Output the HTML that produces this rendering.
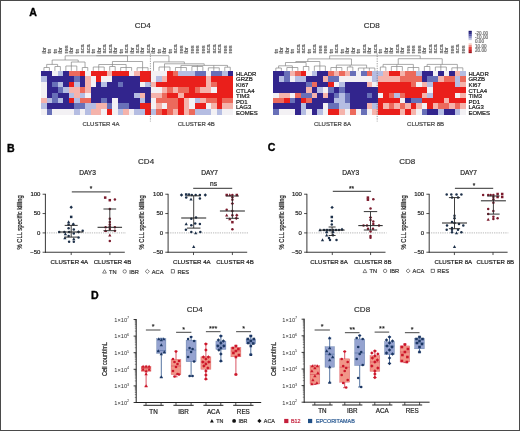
<!DOCTYPE html><html><head><meta charset="utf-8"><style>html,body{margin:0;padding:0;background:#fff;}svg{display:block;font-family:"Liberation Sans", sans-serif;filter:blur(0.3px);}</style></head><body>
<svg width="520" height="431" viewBox="0 0 520 431">
<rect x="0" y="0" width="520" height="431" fill="#ffffff"/>
<text x="29.2" y="15.5" font-size="10.6" fill="#000" text-anchor="start" font-weight="bold" stroke="#000" stroke-width="0.35">A</text>
<text x="142.8" y="28.3" font-size="8" fill="#333" text-anchor="middle" font-weight="normal" stroke="#333" stroke-width="0.2">CD4</text>
<text x="371.7" y="28.3" font-size="8" fill="#333" text-anchor="middle" font-weight="normal" stroke="#333" stroke-width="0.2">CD8</text>
<g shape-rendering="crispEdges">
<rect x="41.2" y="70.8" width="5.83" height="5.79" fill="#32258d"/>
<rect x="46.68" y="70.8" width="5.83" height="5.79" fill="#32258d"/>
<rect x="52.16" y="70.8" width="5.83" height="5.79" fill="#f3f1f4"/>
<rect x="57.64" y="70.8" width="5.83" height="5.79" fill="#b5bde2"/>
<rect x="63.12" y="70.8" width="5.83" height="5.79" fill="#32258d"/>
<rect x="68.6" y="70.8" width="5.83" height="5.79" fill="#ec6a5c"/>
<rect x="74.08" y="70.8" width="5.83" height="5.79" fill="#ec6a5c"/>
<rect x="79.56" y="70.8" width="5.83" height="5.79" fill="#ea1f1b"/>
<rect x="85.04" y="70.8" width="5.83" height="5.79" fill="#f3f1f4"/>
<rect x="90.52" y="70.8" width="5.83" height="5.79" fill="#ea1f1b"/>
<rect x="96" y="70.8" width="5.83" height="5.79" fill="#ea1f1b"/>
<rect x="101.48" y="70.8" width="5.83" height="5.79" fill="#ea1f1b"/>
<rect x="106.96" y="70.8" width="5.83" height="5.79" fill="#f5b3ab"/>
<rect x="112.44" y="70.8" width="5.83" height="5.79" fill="#ea1f1b"/>
<rect x="117.92" y="70.8" width="5.83" height="5.79" fill="#ea1f1b"/>
<rect x="123.4" y="70.8" width="5.83" height="5.79" fill="#ea1f1b"/>
<rect x="128.88" y="70.8" width="5.83" height="5.79" fill="#f3f1f4"/>
<rect x="134.36" y="70.8" width="5.83" height="5.79" fill="#f5b3ab"/>
<rect x="139.84" y="70.8" width="5.83" height="5.79" fill="#ea1f1b"/>
<rect x="145.32" y="70.8" width="5.83" height="5.79" fill="#ea1f1b"/>
<rect x="150.8" y="70.8" width="5.83" height="5.79" fill="#f3f1f4"/>
<rect x="156.28" y="70.8" width="5.83" height="5.79" fill="#f3f1f4"/>
<rect x="161.76" y="70.8" width="5.83" height="5.79" fill="#f3f1f4"/>
<rect x="167.24" y="70.8" width="5.83" height="5.79" fill="#ea1f1b"/>
<rect x="172.72" y="70.8" width="5.83" height="5.79" fill="#ec6a5c"/>
<rect x="178.2" y="70.8" width="5.83" height="5.79" fill="#b5bde2"/>
<rect x="183.68" y="70.8" width="5.83" height="5.79" fill="#b5bde2"/>
<rect x="189.16" y="70.8" width="5.83" height="5.79" fill="#b5bde2"/>
<rect x="194.64" y="70.8" width="5.83" height="5.79" fill="#6870b8"/>
<rect x="200.12" y="70.8" width="5.83" height="5.79" fill="#6870b8"/>
<rect x="205.6" y="70.8" width="5.83" height="5.79" fill="#f3f1f4"/>
<rect x="211.08" y="70.8" width="5.83" height="5.79" fill="#6870b8"/>
<rect x="216.56" y="70.8" width="5.83" height="5.79" fill="#6870b8"/>
<rect x="222.04" y="70.8" width="5.83" height="5.79" fill="#b5bde2"/>
<rect x="227.52" y="70.8" width="5.83" height="5.79" fill="#32258d"/>
<rect x="41.2" y="76.24" width="5.83" height="5.79" fill="#b5bde2"/>
<rect x="46.68" y="76.24" width="5.83" height="5.79" fill="#32258d"/>
<rect x="52.16" y="76.24" width="5.83" height="5.79" fill="#32258d"/>
<rect x="57.64" y="76.24" width="5.83" height="5.79" fill="#32258d"/>
<rect x="63.12" y="76.24" width="5.83" height="5.79" fill="#32258d"/>
<rect x="68.6" y="76.24" width="5.83" height="5.79" fill="#32258d"/>
<rect x="74.08" y="76.24" width="5.83" height="5.79" fill="#6870b8"/>
<rect x="79.56" y="76.24" width="5.83" height="5.79" fill="#32258d"/>
<rect x="85.04" y="76.24" width="5.83" height="5.79" fill="#f5b3ab"/>
<rect x="90.52" y="76.24" width="5.83" height="5.79" fill="#f3f1f4"/>
<rect x="96" y="76.24" width="5.83" height="5.79" fill="#ea1f1b"/>
<rect x="101.48" y="76.24" width="5.83" height="5.79" fill="#f3f1f4"/>
<rect x="106.96" y="76.24" width="5.83" height="5.79" fill="#f3f1f4"/>
<rect x="112.44" y="76.24" width="5.83" height="5.79" fill="#32258d"/>
<rect x="117.92" y="76.24" width="5.83" height="5.79" fill="#32258d"/>
<rect x="123.4" y="76.24" width="5.83" height="5.79" fill="#32258d"/>
<rect x="128.88" y="76.24" width="5.83" height="5.79" fill="#32258d"/>
<rect x="134.36" y="76.24" width="5.83" height="5.79" fill="#32258d"/>
<rect x="139.84" y="76.24" width="5.83" height="5.79" fill="#ea1f1b"/>
<rect x="145.32" y="76.24" width="5.83" height="5.79" fill="#ea1f1b"/>
<rect x="150.8" y="76.24" width="5.83" height="5.79" fill="#f3f1f4"/>
<rect x="156.28" y="76.24" width="5.83" height="5.79" fill="#b5bde2"/>
<rect x="161.76" y="76.24" width="5.83" height="5.79" fill="#f5b3ab"/>
<rect x="167.24" y="76.24" width="5.83" height="5.79" fill="#ea1f1b"/>
<rect x="172.72" y="76.24" width="5.83" height="5.79" fill="#ea1f1b"/>
<rect x="178.2" y="76.24" width="5.83" height="5.79" fill="#ea1f1b"/>
<rect x="183.68" y="76.24" width="5.83" height="5.79" fill="#ea1f1b"/>
<rect x="189.16" y="76.24" width="5.83" height="5.79" fill="#ea1f1b"/>
<rect x="194.64" y="76.24" width="5.83" height="5.79" fill="#ea1f1b"/>
<rect x="200.12" y="76.24" width="5.83" height="5.79" fill="#ea1f1b"/>
<rect x="205.6" y="76.24" width="5.83" height="5.79" fill="#f5b3ab"/>
<rect x="211.08" y="76.24" width="5.83" height="5.79" fill="#ea1f1b"/>
<rect x="216.56" y="76.24" width="5.83" height="5.79" fill="#ea1f1b"/>
<rect x="222.04" y="76.24" width="5.83" height="5.79" fill="#ea1f1b"/>
<rect x="227.52" y="76.24" width="5.83" height="5.79" fill="#ea1f1b"/>
<rect x="41.2" y="81.68" width="5.83" height="5.79" fill="#f3f1f4"/>
<rect x="46.68" y="81.68" width="5.83" height="5.79" fill="#32258d"/>
<rect x="52.16" y="81.68" width="5.83" height="5.79" fill="#6870b8"/>
<rect x="57.64" y="81.68" width="5.83" height="5.79" fill="#b5bde2"/>
<rect x="63.12" y="81.68" width="5.83" height="5.79" fill="#32258d"/>
<rect x="68.6" y="81.68" width="5.83" height="5.79" fill="#ea1f1b"/>
<rect x="74.08" y="81.68" width="5.83" height="5.79" fill="#b5bde2"/>
<rect x="79.56" y="81.68" width="5.83" height="5.79" fill="#32258d"/>
<rect x="85.04" y="81.68" width="5.83" height="5.79" fill="#f5b3ab"/>
<rect x="90.52" y="81.68" width="5.83" height="5.79" fill="#f3f1f4"/>
<rect x="96" y="81.68" width="5.83" height="5.79" fill="#32258d"/>
<rect x="101.48" y="81.68" width="5.83" height="5.79" fill="#b5bde2"/>
<rect x="106.96" y="81.68" width="5.83" height="5.79" fill="#32258d"/>
<rect x="112.44" y="81.68" width="5.83" height="5.79" fill="#32258d"/>
<rect x="117.92" y="81.68" width="5.83" height="5.79" fill="#6870b8"/>
<rect x="123.4" y="81.68" width="5.83" height="5.79" fill="#32258d"/>
<rect x="128.88" y="81.68" width="5.83" height="5.79" fill="#32258d"/>
<rect x="134.36" y="81.68" width="5.83" height="5.79" fill="#32258d"/>
<rect x="139.84" y="81.68" width="5.83" height="5.79" fill="#f3f1f4"/>
<rect x="145.32" y="81.68" width="5.83" height="5.79" fill="#b5bde2"/>
<rect x="150.8" y="81.68" width="5.83" height="5.79" fill="#f5b3ab"/>
<rect x="156.28" y="81.68" width="5.83" height="5.79" fill="#ea1f1b"/>
<rect x="161.76" y="81.68" width="5.83" height="5.79" fill="#ea1f1b"/>
<rect x="167.24" y="81.68" width="5.83" height="5.79" fill="#ea1f1b"/>
<rect x="172.72" y="81.68" width="5.83" height="5.79" fill="#ea1f1b"/>
<rect x="178.2" y="81.68" width="5.83" height="5.79" fill="#ea1f1b"/>
<rect x="183.68" y="81.68" width="5.83" height="5.79" fill="#ea1f1b"/>
<rect x="189.16" y="81.68" width="5.83" height="5.79" fill="#ea1f1b"/>
<rect x="194.64" y="81.68" width="5.83" height="5.79" fill="#ea1f1b"/>
<rect x="200.12" y="81.68" width="5.83" height="5.79" fill="#ea1f1b"/>
<rect x="205.6" y="81.68" width="5.83" height="5.79" fill="#f5b3ab"/>
<rect x="211.08" y="81.68" width="5.83" height="5.79" fill="#ec6a5c"/>
<rect x="216.56" y="81.68" width="5.83" height="5.79" fill="#ea1f1b"/>
<rect x="222.04" y="81.68" width="5.83" height="5.79" fill="#ea1f1b"/>
<rect x="227.52" y="81.68" width="5.83" height="5.79" fill="#ea1f1b"/>
<rect x="41.2" y="87.12" width="5.83" height="5.79" fill="#f3f1f4"/>
<rect x="46.68" y="87.12" width="5.83" height="5.79" fill="#32258d"/>
<rect x="52.16" y="87.12" width="5.83" height="5.79" fill="#32258d"/>
<rect x="57.64" y="87.12" width="5.83" height="5.79" fill="#6870b8"/>
<rect x="63.12" y="87.12" width="5.83" height="5.79" fill="#b5bde2"/>
<rect x="68.6" y="87.12" width="5.83" height="5.79" fill="#f5b3ab"/>
<rect x="74.08" y="87.12" width="5.83" height="5.79" fill="#f5b3ab"/>
<rect x="79.56" y="87.12" width="5.83" height="5.79" fill="#ec6a5c"/>
<rect x="85.04" y="87.12" width="5.83" height="5.79" fill="#f5b3ab"/>
<rect x="90.52" y="87.12" width="5.83" height="5.79" fill="#32258d"/>
<rect x="96" y="87.12" width="5.83" height="5.79" fill="#32258d"/>
<rect x="101.48" y="87.12" width="5.83" height="5.79" fill="#32258d"/>
<rect x="106.96" y="87.12" width="5.83" height="5.79" fill="#32258d"/>
<rect x="112.44" y="87.12" width="5.83" height="5.79" fill="#32258d"/>
<rect x="117.92" y="87.12" width="5.83" height="5.79" fill="#32258d"/>
<rect x="123.4" y="87.12" width="5.83" height="5.79" fill="#32258d"/>
<rect x="128.88" y="87.12" width="5.83" height="5.79" fill="#32258d"/>
<rect x="134.36" y="87.12" width="5.83" height="5.79" fill="#32258d"/>
<rect x="139.84" y="87.12" width="5.83" height="5.79" fill="#32258d"/>
<rect x="145.32" y="87.12" width="5.83" height="5.79" fill="#32258d"/>
<rect x="150.8" y="87.12" width="5.83" height="5.79" fill="#f3f1f4"/>
<rect x="156.28" y="87.12" width="5.83" height="5.79" fill="#f3f1f4"/>
<rect x="161.76" y="87.12" width="5.83" height="5.79" fill="#f5b3ab"/>
<rect x="167.24" y="87.12" width="5.83" height="5.79" fill="#ec6a5c"/>
<rect x="172.72" y="87.12" width="5.83" height="5.79" fill="#f5b3ab"/>
<rect x="178.2" y="87.12" width="5.83" height="5.79" fill="#ec6a5c"/>
<rect x="183.68" y="87.12" width="5.83" height="5.79" fill="#ec6a5c"/>
<rect x="189.16" y="87.12" width="5.83" height="5.79" fill="#ea1f1b"/>
<rect x="194.64" y="87.12" width="5.83" height="5.79" fill="#ec6a5c"/>
<rect x="200.12" y="87.12" width="5.83" height="5.79" fill="#f5b3ab"/>
<rect x="205.6" y="87.12" width="5.83" height="5.79" fill="#f5b3ab"/>
<rect x="211.08" y="87.12" width="5.83" height="5.79" fill="#f3f1f4"/>
<rect x="216.56" y="87.12" width="5.83" height="5.79" fill="#ea1f1b"/>
<rect x="222.04" y="87.12" width="5.83" height="5.79" fill="#ea1f1b"/>
<rect x="227.52" y="87.12" width="5.83" height="5.79" fill="#ea1f1b"/>
<rect x="41.2" y="92.56" width="5.83" height="5.79" fill="#f3f1f4"/>
<rect x="46.68" y="92.56" width="5.83" height="5.79" fill="#32258d"/>
<rect x="52.16" y="92.56" width="5.83" height="5.79" fill="#6870b8"/>
<rect x="57.64" y="92.56" width="5.83" height="5.79" fill="#32258d"/>
<rect x="63.12" y="92.56" width="5.83" height="5.79" fill="#32258d"/>
<rect x="68.6" y="92.56" width="5.83" height="5.79" fill="#b5bde2"/>
<rect x="74.08" y="92.56" width="5.83" height="5.79" fill="#f5b3ab"/>
<rect x="79.56" y="92.56" width="5.83" height="5.79" fill="#b5bde2"/>
<rect x="85.04" y="92.56" width="5.83" height="5.79" fill="#f3f1f4"/>
<rect x="90.52" y="92.56" width="5.83" height="5.79" fill="#32258d"/>
<rect x="96" y="92.56" width="5.83" height="5.79" fill="#32258d"/>
<rect x="101.48" y="92.56" width="5.83" height="5.79" fill="#32258d"/>
<rect x="106.96" y="92.56" width="5.83" height="5.79" fill="#32258d"/>
<rect x="112.44" y="92.56" width="5.83" height="5.79" fill="#32258d"/>
<rect x="117.92" y="92.56" width="5.83" height="5.79" fill="#32258d"/>
<rect x="123.4" y="92.56" width="5.83" height="5.79" fill="#32258d"/>
<rect x="128.88" y="92.56" width="5.83" height="5.79" fill="#32258d"/>
<rect x="134.36" y="92.56" width="5.83" height="5.79" fill="#b5bde2"/>
<rect x="139.84" y="92.56" width="5.83" height="5.79" fill="#f5b3ab"/>
<rect x="145.32" y="92.56" width="5.83" height="5.79" fill="#32258d"/>
<rect x="150.8" y="92.56" width="5.83" height="5.79" fill="#f5b3ab"/>
<rect x="156.28" y="92.56" width="5.83" height="5.79" fill="#f5b3ab"/>
<rect x="161.76" y="92.56" width="5.83" height="5.79" fill="#ec6a5c"/>
<rect x="167.24" y="92.56" width="5.83" height="5.79" fill="#ea1f1b"/>
<rect x="172.72" y="92.56" width="5.83" height="5.79" fill="#ea1f1b"/>
<rect x="178.2" y="92.56" width="5.83" height="5.79" fill="#f5b3ab"/>
<rect x="183.68" y="92.56" width="5.83" height="5.79" fill="#ea1f1b"/>
<rect x="189.16" y="92.56" width="5.83" height="5.79" fill="#ea1f1b"/>
<rect x="194.64" y="92.56" width="5.83" height="5.79" fill="#ea1f1b"/>
<rect x="200.12" y="92.56" width="5.83" height="5.79" fill="#ea1f1b"/>
<rect x="205.6" y="92.56" width="5.83" height="5.79" fill="#ea1f1b"/>
<rect x="211.08" y="92.56" width="5.83" height="5.79" fill="#ea1f1b"/>
<rect x="216.56" y="92.56" width="5.83" height="5.79" fill="#ea1f1b"/>
<rect x="222.04" y="92.56" width="5.83" height="5.79" fill="#ea1f1b"/>
<rect x="227.52" y="92.56" width="5.83" height="5.79" fill="#ea1f1b"/>
<rect x="41.2" y="98" width="5.83" height="5.79" fill="#f5b3ab"/>
<rect x="46.68" y="98" width="5.83" height="5.79" fill="#b5bde2"/>
<rect x="52.16" y="98" width="5.83" height="5.79" fill="#6870b8"/>
<rect x="57.64" y="98" width="5.83" height="5.79" fill="#b5bde2"/>
<rect x="63.12" y="98" width="5.83" height="5.79" fill="#32258d"/>
<rect x="68.6" y="98" width="5.83" height="5.79" fill="#ea1f1b"/>
<rect x="74.08" y="98" width="5.83" height="5.79" fill="#b5bde2"/>
<rect x="79.56" y="98" width="5.83" height="5.79" fill="#ec6a5c"/>
<rect x="85.04" y="98" width="5.83" height="5.79" fill="#ec6a5c"/>
<rect x="90.52" y="98" width="5.83" height="5.79" fill="#32258d"/>
<rect x="96" y="98" width="5.83" height="5.79" fill="#32258d"/>
<rect x="101.48" y="98" width="5.83" height="5.79" fill="#6870b8"/>
<rect x="106.96" y="98" width="5.83" height="5.79" fill="#32258d"/>
<rect x="112.44" y="98" width="5.83" height="5.79" fill="#f3f1f4"/>
<rect x="117.92" y="98" width="5.83" height="5.79" fill="#32258d"/>
<rect x="123.4" y="98" width="5.83" height="5.79" fill="#32258d"/>
<rect x="128.88" y="98" width="5.83" height="5.79" fill="#32258d"/>
<rect x="134.36" y="98" width="5.83" height="5.79" fill="#32258d"/>
<rect x="139.84" y="98" width="5.83" height="5.79" fill="#b5bde2"/>
<rect x="145.32" y="98" width="5.83" height="5.79" fill="#32258d"/>
<rect x="150.8" y="98" width="5.83" height="5.79" fill="#f3f1f4"/>
<rect x="156.28" y="98" width="5.83" height="5.79" fill="#ec6a5c"/>
<rect x="161.76" y="98" width="5.83" height="5.79" fill="#ec6a5c"/>
<rect x="167.24" y="98" width="5.83" height="5.79" fill="#ec6a5c"/>
<rect x="172.72" y="98" width="5.83" height="5.79" fill="#ec6a5c"/>
<rect x="178.2" y="98" width="5.83" height="5.79" fill="#ea1f1b"/>
<rect x="183.68" y="98" width="5.83" height="5.79" fill="#f5b3ab"/>
<rect x="189.16" y="98" width="5.83" height="5.79" fill="#f3f1f4"/>
<rect x="194.64" y="98" width="5.83" height="5.79" fill="#b5bde2"/>
<rect x="200.12" y="98" width="5.83" height="5.79" fill="#f5b3ab"/>
<rect x="205.6" y="98" width="5.83" height="5.79" fill="#ec6a5c"/>
<rect x="211.08" y="98" width="5.83" height="5.79" fill="#ec6a5c"/>
<rect x="216.56" y="98" width="5.83" height="5.79" fill="#ea1f1b"/>
<rect x="222.04" y="98" width="5.83" height="5.79" fill="#ec6a5c"/>
<rect x="227.52" y="98" width="5.83" height="5.79" fill="#ec6a5c"/>
<rect x="41.2" y="103.44" width="5.83" height="5.79" fill="#b5bde2"/>
<rect x="46.68" y="103.44" width="5.83" height="5.79" fill="#32258d"/>
<rect x="52.16" y="103.44" width="5.83" height="5.79" fill="#32258d"/>
<rect x="57.64" y="103.44" width="5.83" height="5.79" fill="#32258d"/>
<rect x="63.12" y="103.44" width="5.83" height="5.79" fill="#32258d"/>
<rect x="68.6" y="103.44" width="5.83" height="5.79" fill="#32258d"/>
<rect x="74.08" y="103.44" width="5.83" height="5.79" fill="#6870b8"/>
<rect x="79.56" y="103.44" width="5.83" height="5.79" fill="#6870b8"/>
<rect x="85.04" y="103.44" width="5.83" height="5.79" fill="#b5bde2"/>
<rect x="90.52" y="103.44" width="5.83" height="5.79" fill="#b5bde2"/>
<rect x="96" y="103.44" width="5.83" height="5.79" fill="#f5b3ab"/>
<rect x="101.48" y="103.44" width="5.83" height="5.79" fill="#f5b3ab"/>
<rect x="106.96" y="103.44" width="5.83" height="5.79" fill="#6870b8"/>
<rect x="112.44" y="103.44" width="5.83" height="5.79" fill="#f3f1f4"/>
<rect x="117.92" y="103.44" width="5.83" height="5.79" fill="#6870b8"/>
<rect x="123.4" y="103.44" width="5.83" height="5.79" fill="#6870b8"/>
<rect x="128.88" y="103.44" width="5.83" height="5.79" fill="#32258d"/>
<rect x="134.36" y="103.44" width="5.83" height="5.79" fill="#32258d"/>
<rect x="139.84" y="103.44" width="5.83" height="5.79" fill="#ea1f1b"/>
<rect x="145.32" y="103.44" width="5.83" height="5.79" fill="#ea1f1b"/>
<rect x="150.8" y="103.44" width="5.83" height="5.79" fill="#f3f1f4"/>
<rect x="156.28" y="103.44" width="5.83" height="5.79" fill="#f5b3ab"/>
<rect x="161.76" y="103.44" width="5.83" height="5.79" fill="#f3f1f4"/>
<rect x="167.24" y="103.44" width="5.83" height="5.79" fill="#ec6a5c"/>
<rect x="172.72" y="103.44" width="5.83" height="5.79" fill="#ec6a5c"/>
<rect x="178.2" y="103.44" width="5.83" height="5.79" fill="#ea1f1b"/>
<rect x="183.68" y="103.44" width="5.83" height="5.79" fill="#f5b3ab"/>
<rect x="189.16" y="103.44" width="5.83" height="5.79" fill="#f3f1f4"/>
<rect x="194.64" y="103.44" width="5.83" height="5.79" fill="#ea1f1b"/>
<rect x="200.12" y="103.44" width="5.83" height="5.79" fill="#ea1f1b"/>
<rect x="205.6" y="103.44" width="5.83" height="5.79" fill="#f3f1f4"/>
<rect x="211.08" y="103.44" width="5.83" height="5.79" fill="#f5b3ab"/>
<rect x="216.56" y="103.44" width="5.83" height="5.79" fill="#ea1f1b"/>
<rect x="222.04" y="103.44" width="5.83" height="5.79" fill="#f5b3ab"/>
<rect x="227.52" y="103.44" width="5.83" height="5.79" fill="#f5b3ab"/>
<rect x="41.2" y="108.88" width="5.83" height="5.79" fill="#f3f1f4"/>
<rect x="46.68" y="108.88" width="5.83" height="5.79" fill="#6870b8"/>
<rect x="52.16" y="108.88" width="5.83" height="5.79" fill="#f3f1f4"/>
<rect x="57.64" y="108.88" width="5.83" height="5.79" fill="#f3f1f4"/>
<rect x="63.12" y="108.88" width="5.83" height="5.79" fill="#f3f1f4"/>
<rect x="68.6" y="108.88" width="5.83" height="5.79" fill="#f3f1f4"/>
<rect x="74.08" y="108.88" width="5.83" height="5.79" fill="#b5bde2"/>
<rect x="79.56" y="108.88" width="5.83" height="5.79" fill="#f3f1f4"/>
<rect x="85.04" y="108.88" width="5.83" height="5.79" fill="#b5bde2"/>
<rect x="90.52" y="108.88" width="5.83" height="5.79" fill="#f5b3ab"/>
<rect x="96" y="108.88" width="5.83" height="5.79" fill="#f5b3ab"/>
<rect x="101.48" y="108.88" width="5.83" height="5.79" fill="#f3f1f4"/>
<rect x="106.96" y="108.88" width="5.83" height="5.79" fill="#ea1f1b"/>
<rect x="112.44" y="108.88" width="5.83" height="5.79" fill="#f3f1f4"/>
<rect x="117.92" y="108.88" width="5.83" height="5.79" fill="#b5bde2"/>
<rect x="123.4" y="108.88" width="5.83" height="5.79" fill="#f5b3ab"/>
<rect x="128.88" y="108.88" width="5.83" height="5.79" fill="#f3f1f4"/>
<rect x="134.36" y="108.88" width="5.83" height="5.79" fill="#b5bde2"/>
<rect x="139.84" y="108.88" width="5.83" height="5.79" fill="#b5bde2"/>
<rect x="145.32" y="108.88" width="5.83" height="5.79" fill="#ea1f1b"/>
<rect x="150.8" y="108.88" width="5.83" height="5.79" fill="#b5bde2"/>
<rect x="156.28" y="108.88" width="5.83" height="5.79" fill="#ec6a5c"/>
<rect x="161.76" y="108.88" width="5.83" height="5.79" fill="#ea1f1b"/>
<rect x="167.24" y="108.88" width="5.83" height="5.79" fill="#ec6a5c"/>
<rect x="172.72" y="108.88" width="5.83" height="5.79" fill="#f5b3ab"/>
<rect x="178.2" y="108.88" width="5.83" height="5.79" fill="#ea1f1b"/>
<rect x="183.68" y="108.88" width="5.83" height="5.79" fill="#f5b3ab"/>
<rect x="189.16" y="108.88" width="5.83" height="5.79" fill="#ec6a5c"/>
<rect x="194.64" y="108.88" width="5.83" height="5.79" fill="#b5bde2"/>
<rect x="200.12" y="108.88" width="5.83" height="5.79" fill="#b5bde2"/>
<rect x="205.6" y="108.88" width="5.83" height="5.79" fill="#b5bde2"/>
<rect x="211.08" y="108.88" width="5.83" height="5.79" fill="#f3f1f4"/>
<rect x="216.56" y="108.88" width="5.83" height="5.79" fill="#b5bde2"/>
<rect x="222.04" y="108.88" width="5.83" height="5.79" fill="#f3f1f4"/>
<rect x="227.52" y="108.88" width="5.83" height="5.79" fill="#f3f1f4"/>
</g>
<g shape-rendering="crispEdges">
<rect x="273.1" y="70.8" width="5.85" height="5.79" fill="#32258d"/>
<rect x="278.6" y="70.8" width="5.85" height="5.79" fill="#32258d"/>
<rect x="284.1" y="70.8" width="5.85" height="5.79" fill="#6870b8"/>
<rect x="289.6" y="70.8" width="5.85" height="5.79" fill="#f5b3ab"/>
<rect x="295.1" y="70.8" width="5.85" height="5.79" fill="#ec6a5c"/>
<rect x="300.6" y="70.8" width="5.85" height="5.79" fill="#ea1f1b"/>
<rect x="306.1" y="70.8" width="5.85" height="5.79" fill="#f3f1f4"/>
<rect x="311.6" y="70.8" width="5.85" height="5.79" fill="#b5bde2"/>
<rect x="317.1" y="70.8" width="5.85" height="5.79" fill="#32258d"/>
<rect x="322.6" y="70.8" width="5.85" height="5.79" fill="#32258d"/>
<rect x="328.1" y="70.8" width="5.85" height="5.79" fill="#ec6a5c"/>
<rect x="333.6" y="70.8" width="5.85" height="5.79" fill="#f5b3ab"/>
<rect x="339.1" y="70.8" width="5.85" height="5.79" fill="#ec6a5c"/>
<rect x="344.6" y="70.8" width="5.85" height="5.79" fill="#f5b3ab"/>
<rect x="350.1" y="70.8" width="5.85" height="5.79" fill="#6870b8"/>
<rect x="355.6" y="70.8" width="5.85" height="5.79" fill="#f3f1f4"/>
<rect x="361.1" y="70.8" width="5.85" height="5.79" fill="#6870b8"/>
<rect x="366.6" y="70.8" width="5.85" height="5.79" fill="#ec6a5c"/>
<rect x="372.1" y="70.8" width="5.85" height="5.79" fill="#b5bde2"/>
<rect x="377.6" y="70.8" width="5.85" height="5.79" fill="#b5bde2"/>
<rect x="383.1" y="70.8" width="5.85" height="5.79" fill="#f5b3ab"/>
<rect x="388.6" y="70.8" width="5.85" height="5.79" fill="#ea1f1b"/>
<rect x="394.1" y="70.8" width="5.85" height="5.79" fill="#ea1f1b"/>
<rect x="399.6" y="70.8" width="5.85" height="5.79" fill="#f5b3ab"/>
<rect x="405.1" y="70.8" width="5.85" height="5.79" fill="#ec6a5c"/>
<rect x="410.6" y="70.8" width="5.85" height="5.79" fill="#ec6a5c"/>
<rect x="416.1" y="70.8" width="5.85" height="5.79" fill="#b5bde2"/>
<rect x="421.6" y="70.8" width="5.85" height="5.79" fill="#32258d"/>
<rect x="427.1" y="70.8" width="5.85" height="5.79" fill="#32258d"/>
<rect x="432.6" y="70.8" width="5.85" height="5.79" fill="#f3f1f4"/>
<rect x="438.1" y="70.8" width="5.85" height="5.79" fill="#32258d"/>
<rect x="443.6" y="70.8" width="5.85" height="5.79" fill="#f3f1f4"/>
<rect x="449.1" y="70.8" width="5.85" height="5.79" fill="#32258d"/>
<rect x="454.6" y="70.8" width="5.85" height="5.79" fill="#f5b3ab"/>
<rect x="460.1" y="70.8" width="5.85" height="5.79" fill="#b5bde2"/>
<rect x="273.1" y="76.24" width="5.85" height="5.79" fill="#32258d"/>
<rect x="278.6" y="76.24" width="5.85" height="5.79" fill="#b5bde2"/>
<rect x="284.1" y="76.24" width="5.85" height="5.79" fill="#6870b8"/>
<rect x="289.6" y="76.24" width="5.85" height="5.79" fill="#f3f1f4"/>
<rect x="295.1" y="76.24" width="5.85" height="5.79" fill="#b5bde2"/>
<rect x="300.6" y="76.24" width="5.85" height="5.79" fill="#b5bde2"/>
<rect x="306.1" y="76.24" width="5.85" height="5.79" fill="#32258d"/>
<rect x="311.6" y="76.24" width="5.85" height="5.79" fill="#32258d"/>
<rect x="317.1" y="76.24" width="5.85" height="5.79" fill="#32258d"/>
<rect x="322.6" y="76.24" width="5.85" height="5.79" fill="#f5b3ab"/>
<rect x="328.1" y="76.24" width="5.85" height="5.79" fill="#6870b8"/>
<rect x="333.6" y="76.24" width="5.85" height="5.79" fill="#6870b8"/>
<rect x="339.1" y="76.24" width="5.85" height="5.79" fill="#f3f1f4"/>
<rect x="344.6" y="76.24" width="5.85" height="5.79" fill="#f3f1f4"/>
<rect x="350.1" y="76.24" width="5.85" height="5.79" fill="#f3f1f4"/>
<rect x="355.6" y="76.24" width="5.85" height="5.79" fill="#f3f1f4"/>
<rect x="361.1" y="76.24" width="5.85" height="5.79" fill="#f3f1f4"/>
<rect x="366.6" y="76.24" width="5.85" height="5.79" fill="#f3f1f4"/>
<rect x="372.1" y="76.24" width="5.85" height="5.79" fill="#b5bde2"/>
<rect x="377.6" y="76.24" width="5.85" height="5.79" fill="#f5b3ab"/>
<rect x="383.1" y="76.24" width="5.85" height="5.79" fill="#f5b3ab"/>
<rect x="388.6" y="76.24" width="5.85" height="5.79" fill="#f5b3ab"/>
<rect x="394.1" y="76.24" width="5.85" height="5.79" fill="#f5b3ab"/>
<rect x="399.6" y="76.24" width="5.85" height="5.79" fill="#ec6a5c"/>
<rect x="405.1" y="76.24" width="5.85" height="5.79" fill="#ec6a5c"/>
<rect x="410.6" y="76.24" width="5.85" height="5.79" fill="#ec6a5c"/>
<rect x="416.1" y="76.24" width="5.85" height="5.79" fill="#ec6a5c"/>
<rect x="421.6" y="76.24" width="5.85" height="5.79" fill="#32258d"/>
<rect x="427.1" y="76.24" width="5.85" height="5.79" fill="#6870b8"/>
<rect x="432.6" y="76.24" width="5.85" height="5.79" fill="#6870b8"/>
<rect x="438.1" y="76.24" width="5.85" height="5.79" fill="#f5b3ab"/>
<rect x="443.6" y="76.24" width="5.85" height="5.79" fill="#ec6a5c"/>
<rect x="449.1" y="76.24" width="5.85" height="5.79" fill="#ec6a5c"/>
<rect x="454.6" y="76.24" width="5.85" height="5.79" fill="#b5bde2"/>
<rect x="460.1" y="76.24" width="5.85" height="5.79" fill="#ec6a5c"/>
<rect x="273.1" y="81.68" width="5.85" height="5.79" fill="#32258d"/>
<rect x="278.6" y="81.68" width="5.85" height="5.79" fill="#32258d"/>
<rect x="284.1" y="81.68" width="5.85" height="5.79" fill="#32258d"/>
<rect x="289.6" y="81.68" width="5.85" height="5.79" fill="#32258d"/>
<rect x="295.1" y="81.68" width="5.85" height="5.79" fill="#32258d"/>
<rect x="300.6" y="81.68" width="5.85" height="5.79" fill="#32258d"/>
<rect x="306.1" y="81.68" width="5.85" height="5.79" fill="#6870b8"/>
<rect x="311.6" y="81.68" width="5.85" height="5.79" fill="#ec6a5c"/>
<rect x="317.1" y="81.68" width="5.85" height="5.79" fill="#32258d"/>
<rect x="322.6" y="81.68" width="5.85" height="5.79" fill="#32258d"/>
<rect x="328.1" y="81.68" width="5.85" height="5.79" fill="#ea1f1b"/>
<rect x="333.6" y="81.68" width="5.85" height="5.79" fill="#f3f1f4"/>
<rect x="339.1" y="81.68" width="5.85" height="5.79" fill="#b5bde2"/>
<rect x="344.6" y="81.68" width="5.85" height="5.79" fill="#32258d"/>
<rect x="350.1" y="81.68" width="5.85" height="5.79" fill="#32258d"/>
<rect x="355.6" y="81.68" width="5.85" height="5.79" fill="#32258d"/>
<rect x="361.1" y="81.68" width="5.85" height="5.79" fill="#32258d"/>
<rect x="366.6" y="81.68" width="5.85" height="5.79" fill="#f5b3ab"/>
<rect x="372.1" y="81.68" width="5.85" height="5.79" fill="#f3f1f4"/>
<rect x="377.6" y="81.68" width="5.85" height="5.79" fill="#ea1f1b"/>
<rect x="383.1" y="81.68" width="5.85" height="5.79" fill="#ea1f1b"/>
<rect x="388.6" y="81.68" width="5.85" height="5.79" fill="#ea1f1b"/>
<rect x="394.1" y="81.68" width="5.85" height="5.79" fill="#ea1f1b"/>
<rect x="399.6" y="81.68" width="5.85" height="5.79" fill="#ea1f1b"/>
<rect x="405.1" y="81.68" width="5.85" height="5.79" fill="#ea1f1b"/>
<rect x="410.6" y="81.68" width="5.85" height="5.79" fill="#ec6a5c"/>
<rect x="416.1" y="81.68" width="5.85" height="5.79" fill="#f3f1f4"/>
<rect x="421.6" y="81.68" width="5.85" height="5.79" fill="#f5b3ab"/>
<rect x="427.1" y="81.68" width="5.85" height="5.79" fill="#b5bde2"/>
<rect x="432.6" y="81.68" width="5.85" height="5.79" fill="#ea1f1b"/>
<rect x="438.1" y="81.68" width="5.85" height="5.79" fill="#ea1f1b"/>
<rect x="443.6" y="81.68" width="5.85" height="5.79" fill="#ea1f1b"/>
<rect x="449.1" y="81.68" width="5.85" height="5.79" fill="#ea1f1b"/>
<rect x="454.6" y="81.68" width="5.85" height="5.79" fill="#b5bde2"/>
<rect x="460.1" y="81.68" width="5.85" height="5.79" fill="#f5b3ab"/>
<rect x="273.1" y="87.12" width="5.85" height="5.79" fill="#32258d"/>
<rect x="278.6" y="87.12" width="5.85" height="5.79" fill="#32258d"/>
<rect x="284.1" y="87.12" width="5.85" height="5.79" fill="#32258d"/>
<rect x="289.6" y="87.12" width="5.85" height="5.79" fill="#32258d"/>
<rect x="295.1" y="87.12" width="5.85" height="5.79" fill="#32258d"/>
<rect x="300.6" y="87.12" width="5.85" height="5.79" fill="#32258d"/>
<rect x="306.1" y="87.12" width="5.85" height="5.79" fill="#f5b3ab"/>
<rect x="311.6" y="87.12" width="5.85" height="5.79" fill="#32258d"/>
<rect x="317.1" y="87.12" width="5.85" height="5.79" fill="#b5bde2"/>
<rect x="322.6" y="87.12" width="5.85" height="5.79" fill="#f3f1f4"/>
<rect x="328.1" y="87.12" width="5.85" height="5.79" fill="#6870b8"/>
<rect x="333.6" y="87.12" width="5.85" height="5.79" fill="#32258d"/>
<rect x="339.1" y="87.12" width="5.85" height="5.79" fill="#6870b8"/>
<rect x="344.6" y="87.12" width="5.85" height="5.79" fill="#32258d"/>
<rect x="350.1" y="87.12" width="5.85" height="5.79" fill="#32258d"/>
<rect x="355.6" y="87.12" width="5.85" height="5.79" fill="#32258d"/>
<rect x="361.1" y="87.12" width="5.85" height="5.79" fill="#32258d"/>
<rect x="366.6" y="87.12" width="5.85" height="5.79" fill="#32258d"/>
<rect x="372.1" y="87.12" width="5.85" height="5.79" fill="#32258d"/>
<rect x="377.6" y="87.12" width="5.85" height="5.79" fill="#ea1f1b"/>
<rect x="383.1" y="87.12" width="5.85" height="5.79" fill="#ea1f1b"/>
<rect x="388.6" y="87.12" width="5.85" height="5.79" fill="#ea1f1b"/>
<rect x="394.1" y="87.12" width="5.85" height="5.79" fill="#ea1f1b"/>
<rect x="399.6" y="87.12" width="5.85" height="5.79" fill="#ea1f1b"/>
<rect x="405.1" y="87.12" width="5.85" height="5.79" fill="#ea1f1b"/>
<rect x="410.6" y="87.12" width="5.85" height="5.79" fill="#ea1f1b"/>
<rect x="416.1" y="87.12" width="5.85" height="5.79" fill="#ea1f1b"/>
<rect x="421.6" y="87.12" width="5.85" height="5.79" fill="#ea1f1b"/>
<rect x="427.1" y="87.12" width="5.85" height="5.79" fill="#f3f1f4"/>
<rect x="432.6" y="87.12" width="5.85" height="5.79" fill="#ea1f1b"/>
<rect x="438.1" y="87.12" width="5.85" height="5.79" fill="#ea1f1b"/>
<rect x="443.6" y="87.12" width="5.85" height="5.79" fill="#ea1f1b"/>
<rect x="449.1" y="87.12" width="5.85" height="5.79" fill="#ea1f1b"/>
<rect x="454.6" y="87.12" width="5.85" height="5.79" fill="#ea1f1b"/>
<rect x="460.1" y="87.12" width="5.85" height="5.79" fill="#ea1f1b"/>
<rect x="273.1" y="92.56" width="5.85" height="5.79" fill="#f3f1f4"/>
<rect x="278.6" y="92.56" width="5.85" height="5.79" fill="#f5b3ab"/>
<rect x="284.1" y="92.56" width="5.85" height="5.79" fill="#f5b3ab"/>
<rect x="289.6" y="92.56" width="5.85" height="5.79" fill="#f3f1f4"/>
<rect x="295.1" y="92.56" width="5.85" height="5.79" fill="#ec6a5c"/>
<rect x="300.6" y="92.56" width="5.85" height="5.79" fill="#6870b8"/>
<rect x="306.1" y="92.56" width="5.85" height="5.79" fill="#6870b8"/>
<rect x="311.6" y="92.56" width="5.85" height="5.79" fill="#f5b3ab"/>
<rect x="317.1" y="92.56" width="5.85" height="5.79" fill="#32258d"/>
<rect x="322.6" y="92.56" width="5.85" height="5.79" fill="#f5b3ab"/>
<rect x="328.1" y="92.56" width="5.85" height="5.79" fill="#32258d"/>
<rect x="333.6" y="92.56" width="5.85" height="5.79" fill="#6870b8"/>
<rect x="339.1" y="92.56" width="5.85" height="5.79" fill="#b5bde2"/>
<rect x="344.6" y="92.56" width="5.85" height="5.79" fill="#6870b8"/>
<rect x="350.1" y="92.56" width="5.85" height="5.79" fill="#32258d"/>
<rect x="355.6" y="92.56" width="5.85" height="5.79" fill="#32258d"/>
<rect x="361.1" y="92.56" width="5.85" height="5.79" fill="#32258d"/>
<rect x="366.6" y="92.56" width="5.85" height="5.79" fill="#6870b8"/>
<rect x="372.1" y="92.56" width="5.85" height="5.79" fill="#32258d"/>
<rect x="377.6" y="92.56" width="5.85" height="5.79" fill="#f3f1f4"/>
<rect x="383.1" y="92.56" width="5.85" height="5.79" fill="#ea1f1b"/>
<rect x="388.6" y="92.56" width="5.85" height="5.79" fill="#ec6a5c"/>
<rect x="394.1" y="92.56" width="5.85" height="5.79" fill="#b5bde2"/>
<rect x="399.6" y="92.56" width="5.85" height="5.79" fill="#ec6a5c"/>
<rect x="405.1" y="92.56" width="5.85" height="5.79" fill="#ea1f1b"/>
<rect x="410.6" y="92.56" width="5.85" height="5.79" fill="#ea1f1b"/>
<rect x="416.1" y="92.56" width="5.85" height="5.79" fill="#ea1f1b"/>
<rect x="421.6" y="92.56" width="5.85" height="5.79" fill="#f5b3ab"/>
<rect x="427.1" y="92.56" width="5.85" height="5.79" fill="#b5bde2"/>
<rect x="432.6" y="92.56" width="5.85" height="5.79" fill="#ea1f1b"/>
<rect x="438.1" y="92.56" width="5.85" height="5.79" fill="#ea1f1b"/>
<rect x="443.6" y="92.56" width="5.85" height="5.79" fill="#ea1f1b"/>
<rect x="449.1" y="92.56" width="5.85" height="5.79" fill="#ea1f1b"/>
<rect x="454.6" y="92.56" width="5.85" height="5.79" fill="#f3f1f4"/>
<rect x="460.1" y="92.56" width="5.85" height="5.79" fill="#f5b3ab"/>
<rect x="273.1" y="98" width="5.85" height="5.79" fill="#ec6a5c"/>
<rect x="278.6" y="98" width="5.85" height="5.79" fill="#ec6a5c"/>
<rect x="284.1" y="98" width="5.85" height="5.79" fill="#ea1f1b"/>
<rect x="289.6" y="98" width="5.85" height="5.79" fill="#6870b8"/>
<rect x="295.1" y="98" width="5.85" height="5.79" fill="#32258d"/>
<rect x="300.6" y="98" width="5.85" height="5.79" fill="#ea1f1b"/>
<rect x="306.1" y="98" width="5.85" height="5.79" fill="#ec6a5c"/>
<rect x="311.6" y="98" width="5.85" height="5.79" fill="#32258d"/>
<rect x="317.1" y="98" width="5.85" height="5.79" fill="#32258d"/>
<rect x="322.6" y="98" width="5.85" height="5.79" fill="#32258d"/>
<rect x="328.1" y="98" width="5.85" height="5.79" fill="#32258d"/>
<rect x="333.6" y="98" width="5.85" height="5.79" fill="#b5bde2"/>
<rect x="339.1" y="98" width="5.85" height="5.79" fill="#b5bde2"/>
<rect x="344.6" y="98" width="5.85" height="5.79" fill="#6870b8"/>
<rect x="350.1" y="98" width="5.85" height="5.79" fill="#32258d"/>
<rect x="355.6" y="98" width="5.85" height="5.79" fill="#32258d"/>
<rect x="361.1" y="98" width="5.85" height="5.79" fill="#32258d"/>
<rect x="366.6" y="98" width="5.85" height="5.79" fill="#32258d"/>
<rect x="372.1" y="98" width="5.85" height="5.79" fill="#32258d"/>
<rect x="377.6" y="98" width="5.85" height="5.79" fill="#ea1f1b"/>
<rect x="383.1" y="98" width="5.85" height="5.79" fill="#ea1f1b"/>
<rect x="388.6" y="98" width="5.85" height="5.79" fill="#ea1f1b"/>
<rect x="394.1" y="98" width="5.85" height="5.79" fill="#ea1f1b"/>
<rect x="399.6" y="98" width="5.85" height="5.79" fill="#f3f1f4"/>
<rect x="405.1" y="98" width="5.85" height="5.79" fill="#32258d"/>
<rect x="410.6" y="98" width="5.85" height="5.79" fill="#6870b8"/>
<rect x="416.1" y="98" width="5.85" height="5.79" fill="#6870b8"/>
<rect x="421.6" y="98" width="5.85" height="5.79" fill="#ea1f1b"/>
<rect x="427.1" y="98" width="5.85" height="5.79" fill="#ea1f1b"/>
<rect x="432.6" y="98" width="5.85" height="5.79" fill="#ea1f1b"/>
<rect x="438.1" y="98" width="5.85" height="5.79" fill="#ea1f1b"/>
<rect x="443.6" y="98" width="5.85" height="5.79" fill="#f5b3ab"/>
<rect x="449.1" y="98" width="5.85" height="5.79" fill="#ea1f1b"/>
<rect x="454.6" y="98" width="5.85" height="5.79" fill="#ea1f1b"/>
<rect x="460.1" y="98" width="5.85" height="5.79" fill="#ea1f1b"/>
<rect x="273.1" y="103.44" width="5.85" height="5.79" fill="#32258d"/>
<rect x="278.6" y="103.44" width="5.85" height="5.79" fill="#32258d"/>
<rect x="284.1" y="103.44" width="5.85" height="5.79" fill="#32258d"/>
<rect x="289.6" y="103.44" width="5.85" height="5.79" fill="#32258d"/>
<rect x="295.1" y="103.44" width="5.85" height="5.79" fill="#32258d"/>
<rect x="300.6" y="103.44" width="5.85" height="5.79" fill="#b5bde2"/>
<rect x="306.1" y="103.44" width="5.85" height="5.79" fill="#32258d"/>
<rect x="311.6" y="103.44" width="5.85" height="5.79" fill="#32258d"/>
<rect x="317.1" y="103.44" width="5.85" height="5.79" fill="#32258d"/>
<rect x="322.6" y="103.44" width="5.85" height="5.79" fill="#f3f1f4"/>
<rect x="328.1" y="103.44" width="5.85" height="5.79" fill="#6870b8"/>
<rect x="333.6" y="103.44" width="5.85" height="5.79" fill="#6870b8"/>
<rect x="339.1" y="103.44" width="5.85" height="5.79" fill="#b5bde2"/>
<rect x="344.6" y="103.44" width="5.85" height="5.79" fill="#b5bde2"/>
<rect x="350.1" y="103.44" width="5.85" height="5.79" fill="#32258d"/>
<rect x="355.6" y="103.44" width="5.85" height="5.79" fill="#32258d"/>
<rect x="361.1" y="103.44" width="5.85" height="5.79" fill="#32258d"/>
<rect x="366.6" y="103.44" width="5.85" height="5.79" fill="#f5b3ab"/>
<rect x="372.1" y="103.44" width="5.85" height="5.79" fill="#b5bde2"/>
<rect x="377.6" y="103.44" width="5.85" height="5.79" fill="#ea1f1b"/>
<rect x="383.1" y="103.44" width="5.85" height="5.79" fill="#f5b3ab"/>
<rect x="388.6" y="103.44" width="5.85" height="5.79" fill="#ec6a5c"/>
<rect x="394.1" y="103.44" width="5.85" height="5.79" fill="#f5b3ab"/>
<rect x="399.6" y="103.44" width="5.85" height="5.79" fill="#ec6a5c"/>
<rect x="405.1" y="103.44" width="5.85" height="5.79" fill="#f5b3ab"/>
<rect x="410.6" y="103.44" width="5.85" height="5.79" fill="#ea1f1b"/>
<rect x="416.1" y="103.44" width="5.85" height="5.79" fill="#f5b3ab"/>
<rect x="421.6" y="103.44" width="5.85" height="5.79" fill="#f3f1f4"/>
<rect x="427.1" y="103.44" width="5.85" height="5.79" fill="#ea1f1b"/>
<rect x="432.6" y="103.44" width="5.85" height="5.79" fill="#f5b3ab"/>
<rect x="438.1" y="103.44" width="5.85" height="5.79" fill="#ec6a5c"/>
<rect x="443.6" y="103.44" width="5.85" height="5.79" fill="#ec6a5c"/>
<rect x="449.1" y="103.44" width="5.85" height="5.79" fill="#f5b3ab"/>
<rect x="454.6" y="103.44" width="5.85" height="5.79" fill="#ec6a5c"/>
<rect x="460.1" y="103.44" width="5.85" height="5.79" fill="#f5b3ab"/>
<rect x="273.1" y="108.88" width="5.85" height="5.79" fill="#6870b8"/>
<rect x="278.6" y="108.88" width="5.85" height="5.79" fill="#f3f1f4"/>
<rect x="284.1" y="108.88" width="5.85" height="5.79" fill="#f3f1f4"/>
<rect x="289.6" y="108.88" width="5.85" height="5.79" fill="#f3f1f4"/>
<rect x="295.1" y="108.88" width="5.85" height="5.79" fill="#32258d"/>
<rect x="300.6" y="108.88" width="5.85" height="5.79" fill="#b5bde2"/>
<rect x="306.1" y="108.88" width="5.85" height="5.79" fill="#f3f1f4"/>
<rect x="311.6" y="108.88" width="5.85" height="5.79" fill="#32258d"/>
<rect x="317.1" y="108.88" width="5.85" height="5.79" fill="#b5bde2"/>
<rect x="322.6" y="108.88" width="5.85" height="5.79" fill="#f3f1f4"/>
<rect x="328.1" y="108.88" width="5.85" height="5.79" fill="#ea1f1b"/>
<rect x="333.6" y="108.88" width="5.85" height="5.79" fill="#ea1f1b"/>
<rect x="339.1" y="108.88" width="5.85" height="5.79" fill="#f5b3ab"/>
<rect x="344.6" y="108.88" width="5.85" height="5.79" fill="#f3f1f4"/>
<rect x="350.1" y="108.88" width="5.85" height="5.79" fill="#ec6a5c"/>
<rect x="355.6" y="108.88" width="5.85" height="5.79" fill="#f3f1f4"/>
<rect x="361.1" y="108.88" width="5.85" height="5.79" fill="#6870b8"/>
<rect x="366.6" y="108.88" width="5.85" height="5.79" fill="#f3f1f4"/>
<rect x="372.1" y="108.88" width="5.85" height="5.79" fill="#f5b3ab"/>
<rect x="377.6" y="108.88" width="5.85" height="5.79" fill="#ea1f1b"/>
<rect x="383.1" y="108.88" width="5.85" height="5.79" fill="#ea1f1b"/>
<rect x="388.6" y="108.88" width="5.85" height="5.79" fill="#ea1f1b"/>
<rect x="394.1" y="108.88" width="5.85" height="5.79" fill="#ea1f1b"/>
<rect x="399.6" y="108.88" width="5.85" height="5.79" fill="#f5b3ab"/>
<rect x="405.1" y="108.88" width="5.85" height="5.79" fill="#ea1f1b"/>
<rect x="410.6" y="108.88" width="5.85" height="5.79" fill="#f5b3ab"/>
<rect x="416.1" y="108.88" width="5.85" height="5.79" fill="#f3f1f4"/>
<rect x="421.6" y="108.88" width="5.85" height="5.79" fill="#6870b8"/>
<rect x="427.1" y="108.88" width="5.85" height="5.79" fill="#32258d"/>
<rect x="432.6" y="108.88" width="5.85" height="5.79" fill="#32258d"/>
<rect x="438.1" y="108.88" width="5.85" height="5.79" fill="#b5bde2"/>
<rect x="443.6" y="108.88" width="5.85" height="5.79" fill="#32258d"/>
<rect x="449.1" y="108.88" width="5.85" height="5.79" fill="#32258d"/>
<rect x="454.6" y="108.88" width="5.85" height="5.79" fill="#b5bde2"/>
<rect x="460.1" y="108.88" width="5.85" height="5.79" fill="#f3f1f4"/>
</g>
<text x="236" y="75.7" font-size="6" fill="#1a1a1a" text-anchor="start" font-weight="normal" stroke="#1a1a1a" stroke-width="0.2">HLADR</text>
<text x="236" y="81.3" font-size="6" fill="#1a1a1a" text-anchor="start" font-weight="normal" stroke="#1a1a1a" stroke-width="0.2">GRZB</text>
<text x="236" y="86.9" font-size="6" fill="#1a1a1a" text-anchor="start" font-weight="normal" stroke="#1a1a1a" stroke-width="0.2">KI67</text>
<text x="236" y="92.5" font-size="6" fill="#1a1a1a" text-anchor="start" font-weight="normal" stroke="#1a1a1a" stroke-width="0.2">CTLA4</text>
<text x="236" y="98.1" font-size="6" fill="#1a1a1a" text-anchor="start" font-weight="normal" stroke="#1a1a1a" stroke-width="0.2">TIM3</text>
<text x="236" y="103.7" font-size="6" fill="#1a1a1a" text-anchor="start" font-weight="normal" stroke="#1a1a1a" stroke-width="0.2">PD1</text>
<text x="236" y="109.3" font-size="6" fill="#1a1a1a" text-anchor="start" font-weight="normal" stroke="#1a1a1a" stroke-width="0.2">LAG3</text>
<text x="236" y="114.9" font-size="6" fill="#1a1a1a" text-anchor="start" font-weight="normal" stroke="#1a1a1a" stroke-width="0.2">EOMES</text>
<text x="468.4" y="75.7" font-size="6" fill="#1a1a1a" text-anchor="start" font-weight="normal" stroke="#1a1a1a" stroke-width="0.2">HLADR</text>
<text x="468.4" y="81.3" font-size="6" fill="#1a1a1a" text-anchor="start" font-weight="normal" stroke="#1a1a1a" stroke-width="0.2">GRZB</text>
<text x="468.4" y="86.9" font-size="6" fill="#1a1a1a" text-anchor="start" font-weight="normal" stroke="#1a1a1a" stroke-width="0.2">KI67</text>
<text x="468.4" y="92.5" font-size="6" fill="#1a1a1a" text-anchor="start" font-weight="normal" stroke="#1a1a1a" stroke-width="0.2">CTLA4</text>
<text x="468.4" y="98.1" font-size="6" fill="#1a1a1a" text-anchor="start" font-weight="normal" stroke="#1a1a1a" stroke-width="0.2">TIM3</text>
<text x="468.4" y="103.7" font-size="6" fill="#1a1a1a" text-anchor="start" font-weight="normal" stroke="#1a1a1a" stroke-width="0.2">PD1</text>
<text x="468.4" y="109.3" font-size="6" fill="#1a1a1a" text-anchor="start" font-weight="normal" stroke="#1a1a1a" stroke-width="0.2">LAG3</text>
<text x="468.4" y="114.9" font-size="6" fill="#1a1a1a" text-anchor="start" font-weight="normal" stroke="#1a1a1a" stroke-width="0.2">EOMES</text>
<text x="45.84" y="53.4" font-size="5.7" fill="#444" text-anchor="start" font-weight="normal" transform="rotate(-90 45.84 53.4)" stroke="#555" stroke-width="0.15">ibr</text>
<text x="51.32" y="53.4" font-size="5.7" fill="#444" text-anchor="start" font-weight="normal" transform="rotate(-90 51.32 53.4)" stroke="#555" stroke-width="0.15">tn</text>
<text x="56.8" y="53.4" font-size="5.7" fill="#444" text-anchor="start" font-weight="normal" transform="rotate(-90 56.8 53.4)" stroke="#555" stroke-width="0.15">tn</text>
<text x="62.28" y="53.4" font-size="5.7" fill="#444" text-anchor="start" font-weight="normal" transform="rotate(-90 62.28 53.4)" stroke="#555" stroke-width="0.15">ibr</text>
<text x="67.76" y="53.4" font-size="5.7" fill="#444" text-anchor="start" font-weight="normal" transform="rotate(-90 67.76 53.4)" stroke="#555" stroke-width="0.15">res</text>
<text x="73.24" y="53.4" font-size="5.7" fill="#444" text-anchor="start" font-weight="normal" transform="rotate(-90 73.24 53.4)" stroke="#555" stroke-width="0.15">ibr</text>
<text x="78.72" y="53.4" font-size="5.7" fill="#444" text-anchor="start" font-weight="normal" transform="rotate(-90 78.72 53.4)" stroke="#555" stroke-width="0.15">tn</text>
<text x="84.2" y="53.4" font-size="5.7" fill="#444" text-anchor="start" font-weight="normal" transform="rotate(-90 84.2 53.4)" stroke="#555" stroke-width="0.15">aca</text>
<text x="89.68" y="53.4" font-size="5.7" fill="#444" text-anchor="start" font-weight="normal" transform="rotate(-90 89.68 53.4)" stroke="#555" stroke-width="0.15">aca</text>
<text x="95.16" y="53.4" font-size="5.7" fill="#444" text-anchor="start" font-weight="normal" transform="rotate(-90 95.16 53.4)" stroke="#555" stroke-width="0.15">tn</text>
<text x="100.64" y="53.4" font-size="5.7" fill="#444" text-anchor="start" font-weight="normal" transform="rotate(-90 100.64 53.4)" stroke="#555" stroke-width="0.15">ibr</text>
<text x="106.12" y="53.4" font-size="5.7" fill="#444" text-anchor="start" font-weight="normal" transform="rotate(-90 106.12 53.4)" stroke="#555" stroke-width="0.15">aca</text>
<text x="111.6" y="53.4" font-size="5.7" fill="#444" text-anchor="start" font-weight="normal" transform="rotate(-90 111.6 53.4)" stroke="#555" stroke-width="0.15">aca</text>
<text x="117.08" y="53.4" font-size="5.7" fill="#444" text-anchor="start" font-weight="normal" transform="rotate(-90 117.08 53.4)" stroke="#555" stroke-width="0.15">ibr</text>
<text x="122.56" y="53.4" font-size="5.7" fill="#444" text-anchor="start" font-weight="normal" transform="rotate(-90 122.56 53.4)" stroke="#555" stroke-width="0.15">tn</text>
<text x="128.04" y="53.4" font-size="5.7" fill="#444" text-anchor="start" font-weight="normal" transform="rotate(-90 128.04 53.4)" stroke="#555" stroke-width="0.15">aca</text>
<text x="133.52" y="53.4" font-size="5.7" fill="#444" text-anchor="start" font-weight="normal" transform="rotate(-90 133.52 53.4)" stroke="#555" stroke-width="0.15">ibr</text>
<text x="139" y="53.4" font-size="5.7" fill="#444" text-anchor="start" font-weight="normal" transform="rotate(-90 139 53.4)" stroke="#555" stroke-width="0.15">aca</text>
<text x="144.48" y="53.4" font-size="5.7" fill="#444" text-anchor="start" font-weight="normal" transform="rotate(-90 144.48 53.4)" stroke="#555" stroke-width="0.15">ibr</text>
<text x="149.96" y="53.4" font-size="5.7" fill="#444" text-anchor="start" font-weight="normal" transform="rotate(-90 149.96 53.4)" stroke="#555" stroke-width="0.15">aca</text>
<text x="155.44" y="53.4" font-size="5.7" fill="#444" text-anchor="start" font-weight="normal" transform="rotate(-90 155.44 53.4)" stroke="#555" stroke-width="0.15">ibr</text>
<text x="160.92" y="53.4" font-size="5.7" fill="#444" text-anchor="start" font-weight="normal" transform="rotate(-90 160.92 53.4)" stroke="#555" stroke-width="0.15">tn</text>
<text x="166.4" y="53.4" font-size="5.7" fill="#444" text-anchor="start" font-weight="normal" transform="rotate(-90 166.4 53.4)" stroke="#555" stroke-width="0.15">ibr</text>
<text x="171.88" y="53.4" font-size="5.7" fill="#444" text-anchor="start" font-weight="normal" transform="rotate(-90 171.88 53.4)" stroke="#555" stroke-width="0.15">tn</text>
<text x="177.36" y="53.4" font-size="5.7" fill="#444" text-anchor="start" font-weight="normal" transform="rotate(-90 177.36 53.4)" stroke="#555" stroke-width="0.15">aca</text>
<text x="182.84" y="53.4" font-size="5.7" fill="#444" text-anchor="start" font-weight="normal" transform="rotate(-90 182.84 53.4)" stroke="#555" stroke-width="0.15">res</text>
<text x="188.32" y="53.4" font-size="5.7" fill="#444" text-anchor="start" font-weight="normal" transform="rotate(-90 188.32 53.4)" stroke="#555" stroke-width="0.15">ibr</text>
<text x="193.8" y="53.4" font-size="5.7" fill="#444" text-anchor="start" font-weight="normal" transform="rotate(-90 193.8 53.4)" stroke="#555" stroke-width="0.15">res</text>
<text x="199.28" y="53.4" font-size="5.7" fill="#444" text-anchor="start" font-weight="normal" transform="rotate(-90 199.28 53.4)" stroke="#555" stroke-width="0.15">res</text>
<text x="204.76" y="53.4" font-size="5.7" fill="#444" text-anchor="start" font-weight="normal" transform="rotate(-90 204.76 53.4)" stroke="#555" stroke-width="0.15">res</text>
<text x="210.24" y="53.4" font-size="5.7" fill="#444" text-anchor="start" font-weight="normal" transform="rotate(-90 210.24 53.4)" stroke="#555" stroke-width="0.15">aca</text>
<text x="215.72" y="53.4" font-size="5.7" fill="#444" text-anchor="start" font-weight="normal" transform="rotate(-90 215.72 53.4)" stroke="#555" stroke-width="0.15">aca</text>
<text x="221.2" y="53.4" font-size="5.7" fill="#444" text-anchor="start" font-weight="normal" transform="rotate(-90 221.2 53.4)" stroke="#555" stroke-width="0.15">aca</text>
<text x="226.68" y="53.4" font-size="5.7" fill="#444" text-anchor="start" font-weight="normal" transform="rotate(-90 226.68 53.4)" stroke="#555" stroke-width="0.15">res</text>
<text x="232.16" y="53.4" font-size="5.7" fill="#444" text-anchor="start" font-weight="normal" transform="rotate(-90 232.16 53.4)" stroke="#555" stroke-width="0.15">res</text>
<text x="277.75" y="53.4" font-size="5.7" fill="#444" text-anchor="start" font-weight="normal" transform="rotate(-90 277.75 53.4)" stroke="#555" stroke-width="0.15">tn</text>
<text x="283.25" y="53.4" font-size="5.7" fill="#444" text-anchor="start" font-weight="normal" transform="rotate(-90 283.25 53.4)" stroke="#555" stroke-width="0.15">ibr</text>
<text x="288.75" y="53.4" font-size="5.7" fill="#444" text-anchor="start" font-weight="normal" transform="rotate(-90 288.75 53.4)" stroke="#555" stroke-width="0.15">ibr</text>
<text x="294.25" y="53.4" font-size="5.7" fill="#444" text-anchor="start" font-weight="normal" transform="rotate(-90 294.25 53.4)" stroke="#555" stroke-width="0.15">tn</text>
<text x="299.75" y="53.4" font-size="5.7" fill="#444" text-anchor="start" font-weight="normal" transform="rotate(-90 299.75 53.4)" stroke="#555" stroke-width="0.15">aca</text>
<text x="305.25" y="53.4" font-size="5.7" fill="#444" text-anchor="start" font-weight="normal" transform="rotate(-90 305.25 53.4)" stroke="#555" stroke-width="0.15">aca</text>
<text x="310.75" y="53.4" font-size="5.7" fill="#444" text-anchor="start" font-weight="normal" transform="rotate(-90 310.75 53.4)" stroke="#555" stroke-width="0.15">tn</text>
<text x="316.25" y="53.4" font-size="5.7" fill="#444" text-anchor="start" font-weight="normal" transform="rotate(-90 316.25 53.4)" stroke="#555" stroke-width="0.15">aca</text>
<text x="321.75" y="53.4" font-size="5.7" fill="#444" text-anchor="start" font-weight="normal" transform="rotate(-90 321.75 53.4)" stroke="#555" stroke-width="0.15">res</text>
<text x="327.25" y="53.4" font-size="5.7" fill="#444" text-anchor="start" font-weight="normal" transform="rotate(-90 327.25 53.4)" stroke="#555" stroke-width="0.15">res</text>
<text x="332.75" y="53.4" font-size="5.7" fill="#444" text-anchor="start" font-weight="normal" transform="rotate(-90 332.75 53.4)" stroke="#555" stroke-width="0.15">tn</text>
<text x="338.25" y="53.4" font-size="5.7" fill="#444" text-anchor="start" font-weight="normal" transform="rotate(-90 338.25 53.4)" stroke="#555" stroke-width="0.15">aca</text>
<text x="343.75" y="53.4" font-size="5.7" fill="#444" text-anchor="start" font-weight="normal" transform="rotate(-90 343.75 53.4)" stroke="#555" stroke-width="0.15">tn</text>
<text x="349.25" y="53.4" font-size="5.7" fill="#444" text-anchor="start" font-weight="normal" transform="rotate(-90 349.25 53.4)" stroke="#555" stroke-width="0.15">ibr</text>
<text x="354.75" y="53.4" font-size="5.7" fill="#444" text-anchor="start" font-weight="normal" transform="rotate(-90 354.75 53.4)" stroke="#555" stroke-width="0.15">ibr</text>
<text x="360.25" y="53.4" font-size="5.7" fill="#444" text-anchor="start" font-weight="normal" transform="rotate(-90 360.25 53.4)" stroke="#555" stroke-width="0.15">tn</text>
<text x="365.75" y="53.4" font-size="5.7" fill="#444" text-anchor="start" font-weight="normal" transform="rotate(-90 365.75 53.4)" stroke="#555" stroke-width="0.15">aca</text>
<text x="371.25" y="53.4" font-size="5.7" fill="#444" text-anchor="start" font-weight="normal" transform="rotate(-90 371.25 53.4)" stroke="#555" stroke-width="0.15">ibr</text>
<text x="376.75" y="53.4" font-size="5.7" fill="#444" text-anchor="start" font-weight="normal" transform="rotate(-90 376.75 53.4)" stroke="#555" stroke-width="0.15">aca</text>
<text x="382.25" y="53.4" font-size="5.7" fill="#444" text-anchor="start" font-weight="normal" transform="rotate(-90 382.25 53.4)" stroke="#555" stroke-width="0.15">tn</text>
<text x="387.75" y="53.4" font-size="5.7" fill="#444" text-anchor="start" font-weight="normal" transform="rotate(-90 387.75 53.4)" stroke="#555" stroke-width="0.15">ibr</text>
<text x="393.25" y="53.4" font-size="5.7" fill="#444" text-anchor="start" font-weight="normal" transform="rotate(-90 393.25 53.4)" stroke="#555" stroke-width="0.15">ibr</text>
<text x="398.75" y="53.4" font-size="5.7" fill="#444" text-anchor="start" font-weight="normal" transform="rotate(-90 398.75 53.4)" stroke="#555" stroke-width="0.15">aca</text>
<text x="404.25" y="53.4" font-size="5.7" fill="#444" text-anchor="start" font-weight="normal" transform="rotate(-90 404.25 53.4)" stroke="#555" stroke-width="0.15">ibr</text>
<text x="409.75" y="53.4" font-size="5.7" fill="#444" text-anchor="start" font-weight="normal" transform="rotate(-90 409.75 53.4)" stroke="#555" stroke-width="0.15">res</text>
<text x="415.25" y="53.4" font-size="5.7" fill="#444" text-anchor="start" font-weight="normal" transform="rotate(-90 415.25 53.4)" stroke="#555" stroke-width="0.15">res</text>
<text x="420.75" y="53.4" font-size="5.7" fill="#444" text-anchor="start" font-weight="normal" transform="rotate(-90 420.75 53.4)" stroke="#555" stroke-width="0.15">res</text>
<text x="426.25" y="53.4" font-size="5.7" fill="#444" text-anchor="start" font-weight="normal" transform="rotate(-90 426.25 53.4)" stroke="#555" stroke-width="0.15">ibr</text>
<text x="431.75" y="53.4" font-size="5.7" fill="#444" text-anchor="start" font-weight="normal" transform="rotate(-90 431.75 53.4)" stroke="#555" stroke-width="0.15">aca</text>
<text x="437.25" y="53.4" font-size="5.7" fill="#444" text-anchor="start" font-weight="normal" transform="rotate(-90 437.25 53.4)" stroke="#555" stroke-width="0.15">aca</text>
<text x="442.75" y="53.4" font-size="5.7" fill="#444" text-anchor="start" font-weight="normal" transform="rotate(-90 442.75 53.4)" stroke="#555" stroke-width="0.15">aca</text>
<text x="448.25" y="53.4" font-size="5.7" fill="#444" text-anchor="start" font-weight="normal" transform="rotate(-90 448.25 53.4)" stroke="#555" stroke-width="0.15">ibr</text>
<text x="453.75" y="53.4" font-size="5.7" fill="#444" text-anchor="start" font-weight="normal" transform="rotate(-90 453.75 53.4)" stroke="#555" stroke-width="0.15">res</text>
<text x="459.25" y="53.4" font-size="5.7" fill="#444" text-anchor="start" font-weight="normal" transform="rotate(-90 459.25 53.4)" stroke="#555" stroke-width="0.15">aca</text>
<text x="464.75" y="53.4" font-size="5.7" fill="#444" text-anchor="start" font-weight="normal" transform="rotate(-90 464.75 53.4)" stroke="#555" stroke-width="0.15">res</text>
<path d="M43.94 70.8L43.94 67.5M49.42 70.8L49.42 67.5M43.94 67.5L49.42 67.5M54.9 70.8L54.9 66.5M60.38 70.8L60.38 66.5M54.9 66.5L60.38 66.5M46.68 67.5L46.68 64.4M57.64 66.5L57.64 64.4M46.68 64.4L57.64 64.4M65.86 70.8L65.86 66M71.34 70.8L71.34 66M76.82 70.8L76.82 66M65.86 66L76.82 66M82.3 70.8L82.3 67.5M87.78 70.8L87.78 67.5M82.3 67.5L87.78 67.5M71.34 66L71.34 62M85.04 67.5L85.04 62M71.34 62L85.04 62M52.16 64.4L52.16 60M78.19 62L78.19 60M52.16 60L78.19 60M93.26 70.8L93.26 67M98.74 70.8L98.74 67M104.22 70.8L104.22 67M93.26 67L104.22 67M109.7 70.8L109.7 66.5M115.18 70.8L115.18 66.5M109.7 66.5L115.18 66.5M120.66 70.8L120.66 67.5M126.14 70.8L126.14 67.5M131.62 70.8L131.62 67.5M120.66 67.5L131.62 67.5M98.74 67L98.74 64.5M112.44 66.5L112.44 64.5M126.14 67.5L126.14 64.5M98.74 64.5L126.14 64.5M137.1 70.8L137.1 67.7M142.58 70.8L142.58 67.7M148.06 70.8L148.06 67.7M137.1 67.7L148.06 67.7M112.44 64.5L112.44 61.5M142.58 67.7L142.58 61.5M112.44 61.5L142.58 61.5M65.17 60L65.17 55.8M127.51 61.5L127.51 55.8M65.17 55.8L127.51 55.8M159.02 70.8L159.02 67M164.5 70.8L164.5 67M169.98 70.8L169.98 67M159.02 67L169.98 67M175.46 70.8L175.46 67.5M180.94 70.8L180.94 67.5M186.42 70.8L186.42 67.5M175.46 67.5L186.42 67.5M191.9 70.8L191.9 66.5M197.38 70.8L197.38 66.5M202.86 70.8L202.86 66.5M191.9 66.5L202.86 66.5M208.34 70.8L208.34 67.8M213.82 70.8L213.82 67.8M219.3 70.8L219.3 67.8M208.34 67.8L219.3 67.8M224.78 70.8L224.78 67.2M230.26 70.8L230.26 67.2M224.78 67.2L230.26 67.2M180.94 67.5L180.94 65.4M197.38 66.5L197.38 65.4M213.82 67.8L213.82 65.4M227.52 67.2L227.52 65.4M180.94 65.4L227.52 65.4M164.5 67L164.5 63.8M204.23 65.4L204.23 63.8M164.5 63.8L204.23 63.8M153.54 70.8L153.54 61.9M184.37 63.8L184.37 61.9M153.54 61.9L184.37 61.9M96.34 55.8L96.34 55.7M168.95 61.9L168.95 55.7M96.34 55.7L168.95 55.7" stroke="#858585" stroke-width="0.7" fill="none"/>
<path d="M275.85 70.8L275.85 68M281.35 70.8L281.35 68M275.85 68L281.35 68M286.85 70.8L286.85 67.5M292.35 70.8L292.35 67.5M297.85 70.8L297.85 67.5M286.85 67.5L297.85 67.5M278.6 68L278.6 65.8M292.35 67.5L292.35 65.8M278.6 65.8L292.35 65.8M303.35 70.8L303.35 66.5M308.85 70.8L308.85 66.5M303.35 66.5L308.85 66.5M285.48 65.8L285.48 62.5M306.1 66.5L306.1 62.5M285.48 62.5L306.1 62.5M314.35 70.8L314.35 66M319.85 70.8L319.85 66M325.35 70.8L325.35 66M314.35 66L325.35 66M295.79 62.5L295.79 61.5M319.85 66L319.85 61.5M295.79 61.5L319.85 61.5M330.85 70.8L330.85 67.5M336.35 70.8L336.35 67.5M341.85 70.8L341.85 67.5M330.85 67.5L341.85 67.5M347.35 70.8L347.35 67M352.85 70.8L352.85 67M347.35 67L352.85 67M358.35 70.8L358.35 68M363.85 70.8L363.85 68M369.35 70.8L369.35 68M374.85 70.8L374.85 68M358.35 68L374.85 68M336.35 67.5L336.35 65.1M350.1 67L350.1 65.1M366.6 68L366.6 65.1M336.35 65.1L366.6 65.1M307.82 61.5L307.82 58.9M351.48 65.1L351.48 58.9M307.82 58.9L351.48 58.9M380.35 70.8L380.35 67M385.85 70.8L385.85 67M380.35 67L385.85 67M391.35 70.8L391.35 66.5M396.85 70.8L396.85 66.5M402.35 70.8L402.35 66.5M391.35 66.5L402.35 66.5M407.85 70.8L407.85 67.5M413.35 70.8L413.35 67.5M418.85 70.8L418.85 67.5M407.85 67.5L418.85 67.5M383.1 67L383.1 64.4M396.85 66.5L396.85 64.4M413.35 67.5L413.35 64.4M383.1 64.4L413.35 64.4M424.35 70.8L424.35 66.5M429.85 70.8L429.85 66.5M424.35 66.5L429.85 66.5M435.35 70.8L435.35 67M440.85 70.8L440.85 67M446.35 70.8L446.35 67M435.35 67L446.35 67M451.85 70.8L451.85 67.8M457.35 70.8L457.35 67.8M462.85 70.8L462.85 67.8M451.85 67.8L462.85 67.8M427.1 66.5L427.1 64.4M440.85 67L440.85 64.4M457.35 67.8L457.35 64.4M427.1 64.4L457.35 64.4M398.23 64.4L398.23 58.7M442.23 64.4L442.23 58.7M398.23 58.7L442.23 58.7M329.65 58.9L329.65 55.8M420.23 58.7L420.23 55.8M329.65 55.8L420.23 55.8" stroke="#858585" stroke-width="0.7" fill="none"/>
<line x1="150.4" y1="53.5" x2="150.4" y2="121.5" stroke="#555" stroke-width="0.6" stroke-dasharray="1.2 1.2"/>
<line x1="377.2" y1="53.5" x2="377.2" y2="121.5" stroke="#555" stroke-width="0.6" stroke-dasharray="1.2 1.2"/>
<text x="100.9" y="126.2" font-size="6" fill="#444" text-anchor="middle" font-weight="normal" stroke="#444" stroke-width="0.2">CLUSTER 4A</text>
<text x="196.3" y="126.2" font-size="6" fill="#444" text-anchor="middle" font-weight="normal" stroke="#444" stroke-width="0.2">CLUSTER 4B</text>
<text x="332.4" y="126.2" font-size="6" fill="#444" text-anchor="middle" font-weight="normal" stroke="#444" stroke-width="0.2">CLUSTER 8A</text>
<text x="425.6" y="126.2" font-size="6" fill="#444" text-anchor="middle" font-weight="normal" stroke="#444" stroke-width="0.2">CLUSTER 8B</text>
<rect x="468.6" y="30.8" width="3.2" height="2.05" fill="#1a1670"/>
<rect x="468.6" y="32.8" width="3.2" height="1.85" fill="#2e2c8a"/>
<rect x="468.6" y="34.6" width="3.2" height="2.05" fill="#5558a8"/>
<rect x="468.6" y="36.6" width="3.2" height="2.05" fill="#8b90c8"/>
<rect x="468.6" y="38.6" width="3.2" height="1.75" fill="#bfc4e2"/>
<rect x="468.6" y="40.3" width="3.2" height="2.95" fill="#ffffff"/>
<rect x="468.6" y="43.2" width="3.2" height="1.85" fill="#f6d0c8"/>
<rect x="468.6" y="45" width="3.2" height="2.05" fill="#ef8f86"/>
<rect x="468.6" y="47" width="3.2" height="2.25" fill="#e8413c"/>
<rect x="468.6" y="49.2" width="3.2" height="2.05" fill="#cc1c20"/>
<rect x="468.6" y="51.2" width="3.2" height="1.95" fill="#a01018"/>
<text x="475" y="34.8" font-size="4.6" fill="#707070" text-anchor="start" font-weight="normal" stroke="#707070" stroke-width="0.2">-20.00</text>
<text x="475" y="38.6" font-size="4.6" fill="#707070" text-anchor="start" font-weight="normal" stroke="#707070" stroke-width="0.2">-10.00</text>
<text x="475" y="43" font-size="4.6" fill="#707070" text-anchor="start" font-weight="normal" stroke="#707070" stroke-width="0.2">0.00</text>
<text x="475" y="47.6" font-size="4.6" fill="#707070" text-anchor="start" font-weight="normal" stroke="#707070" stroke-width="0.2">10.00</text>
<text x="475" y="52.4" font-size="4.6" fill="#707070" text-anchor="start" font-weight="normal" stroke="#707070" stroke-width="0.2">20.00</text>
<text x="7" y="151.5" font-size="10.6" fill="#000" text-anchor="start" font-weight="bold" stroke="#000" stroke-width="0.35">B</text>
<text x="267.8" y="151.4" font-size="10.6" fill="#000" text-anchor="start" font-weight="bold" stroke="#000" stroke-width="0.35">C</text>
<text x="146.1" y="164.1" font-size="8" fill="#333" text-anchor="middle" font-weight="normal" stroke="#333" stroke-width="0.2">CD4</text>
<text x="407.2" y="164.1" font-size="8" fill="#333" text-anchor="middle" font-weight="normal" stroke="#333" stroke-width="0.2">CD8</text>
<line x1="45.4" y1="232.9" x2="125.8" y2="232.9" stroke="#555" stroke-width="0.6" stroke-dasharray="0.7 1.1"/>
<line x1="45.4" y1="193.83" x2="45.4" y2="252.64" stroke="#222" stroke-width="0.9"/>
<line x1="45" y1="252.24" x2="124.8" y2="252.24" stroke="#222" stroke-width="0.9"/>
<line x1="42.6" y1="194.23" x2="45.4" y2="194.23" stroke="#222" stroke-width="0.8"/>
<text x="40.4" y="196.03" font-size="6" fill="#222" text-anchor="end" font-weight="normal" stroke="#222" stroke-width="0.2">100</text>
<line x1="42.6" y1="213.56" x2="45.4" y2="213.56" stroke="#222" stroke-width="0.8"/>
<text x="40.4" y="215.37" font-size="6" fill="#222" text-anchor="end" font-weight="normal" stroke="#222" stroke-width="0.2">50</text>
<line x1="42.6" y1="232.9" x2="45.4" y2="232.9" stroke="#222" stroke-width="0.8"/>
<text x="40.4" y="234.7" font-size="6" fill="#222" text-anchor="end" font-weight="normal" stroke="#222" stroke-width="0.2">0</text>
<line x1="42.6" y1="252.24" x2="45.4" y2="252.24" stroke="#222" stroke-width="0.8"/>
<text x="40.4" y="254.04" font-size="6" fill="#222" text-anchor="end" font-weight="normal" stroke="#222" stroke-width="0.2">−50</text>
<line x1="71.2" y1="252.24" x2="71.2" y2="255.04" stroke="#222" stroke-width="0.8"/>
<line x1="109.9" y1="252.24" x2="109.9" y2="255.04" stroke="#222" stroke-width="0.8"/>
<text x="69.4" y="263.5" font-size="6.1" fill="#222" text-anchor="middle" font-weight="normal" stroke="#222" stroke-width="0.2">CLUSTER 4A</text>
<text x="112.5" y="263.5" font-size="6.1" fill="#222" text-anchor="middle" font-weight="normal" stroke="#222" stroke-width="0.2">CLUSTER 4B</text>
<text x="22" y="222.4" font-size="6.6" fill="#1a1a1a" text-anchor="middle" font-weight="normal" transform="rotate(-90 22 222.4)" textLength="54" lengthAdjust="spacingAndGlyphs" stroke="#1a1a1a" stroke-width="0.2">% CLL specific killing</text>
<text x="87.5" y="175.1" font-size="6.6" fill="#222" text-anchor="middle" font-weight="normal" stroke="#222" stroke-width="0.2">DAY3</text>
<line x1="71.8" y1="191.8" x2="110.5" y2="191.8" stroke="#5a5a5a" stroke-width="1.25"/>
<text x="90.9" y="191.4" font-size="6.5" fill="#222" text-anchor="middle" font-weight="normal" stroke="#222" stroke-width="0.2">*</text>
<path d="M71.2 205.61L72.89 207.3L71.2 208.99L69.51 207.3Z" fill="#1d3049"/>
<rect x="69.95" y="215.65" width="2.5" height="2.5" fill="#1d3049"/>
<path d="M68.6 220.15L70.22 223.15L66.97 223.15Z" fill="#1d3049"/>
<circle cx="68.6" cy="224.5" r="1.25" fill="#1d3049"/>
<path d="M73.3 222.51L74.99 224.2L73.3 225.89L71.61 224.2Z" fill="#1d3049"/>
<circle cx="68.6" cy="228.2" r="1.25" fill="#1d3049"/>
<circle cx="59.2" cy="231.9" r="1.25" fill="#1d3049"/>
<circle cx="64.4" cy="231.9" r="1.25" fill="#1d3049"/>
<circle cx="69.1" cy="231.9" r="1.25" fill="#1d3049"/>
<circle cx="73.8" cy="229.5" r="1.25" fill="#1d3049"/>
<circle cx="73.8" cy="233.5" r="1.25" fill="#1d3049"/>
<path d="M78.5 230.21L80.19 231.9L78.5 233.59L76.81 231.9Z" fill="#1d3049"/>
<circle cx="82.7" cy="230.7" r="1.25" fill="#1d3049"/>
<path d="M65.4 232.25L67.03 235.25L63.78 235.25Z" fill="#1d3049"/>
<circle cx="68.6" cy="236" r="1.25" fill="#1d3049"/>
<path d="M64.9 236.35L66.53 239.35L63.28 239.35Z" fill="#1d3049"/>
<circle cx="78.5" cy="237.6" r="1.25" fill="#1d3049"/>
<path d="M73.8 237.25L75.42 240.25L72.17 240.25Z" fill="#1d3049"/>
<circle cx="69.1" cy="241.8" r="1.25" fill="#1d3049"/>
<circle cx="73.8" cy="241.8" r="1.25" fill="#1d3049"/>
<line x1="71.2" y1="225.4" x2="71.2" y2="237.1" stroke="#2a2a2a" stroke-width="0.9"/>
<line x1="64.7" y1="225.4" x2="77.7" y2="225.4" stroke="#2a2a2a" stroke-width="0.95"/>
<line x1="64.7" y1="237.1" x2="77.7" y2="237.1" stroke="#2a2a2a" stroke-width="0.95"/>
<line x1="59.2" y1="232" x2="83.2" y2="232" stroke="#2a2a2a" stroke-width="1.05"/>
<rect x="103.95" y="196.35" width="2.5" height="2.5" fill="#7b1b2d"/>
<rect x="108.55" y="198.95" width="2.5" height="2.5" fill="#7b1b2d"/>
<circle cx="114.9" cy="199.6" r="1.25" fill="#7b1b2d"/>
<circle cx="109.8" cy="209" r="1.25" fill="#7b1b2d"/>
<circle cx="109.8" cy="218.7" r="1.25" fill="#7b1b2d"/>
<circle cx="109.8" cy="221.9" r="1.25" fill="#7b1b2d"/>
<circle cx="109.8" cy="224.6" r="1.25" fill="#7b1b2d"/>
<circle cx="109.8" cy="226.4" r="1.25" fill="#7b1b2d"/>
<circle cx="105.6" cy="227.3" r="1.25" fill="#7b1b2d"/>
<circle cx="114.9" cy="227.3" r="1.25" fill="#7b1b2d"/>
<path d="M105.6 228.95L107.22 231.95L103.97 231.95Z" fill="#7b1b2d"/>
<circle cx="114.9" cy="230.7" r="1.25" fill="#7b1b2d"/>
<circle cx="109.8" cy="229.1" r="1.25" fill="#7b1b2d"/>
<path d="M109.8 233.45L111.42 236.45L108.17 236.45Z" fill="#7b1b2d"/>
<circle cx="109.8" cy="241" r="1.25" fill="#7b1b2d"/>
<line x1="109.8" y1="209" x2="109.8" y2="230.7" stroke="#2a2a2a" stroke-width="0.9"/>
<line x1="103.45" y1="209" x2="116.15" y2="209" stroke="#2a2a2a" stroke-width="0.95"/>
<line x1="103.45" y1="230.7" x2="116.15" y2="230.7" stroke="#2a2a2a" stroke-width="0.95"/>
<line x1="97.55" y1="227.3" x2="122.05" y2="227.3" stroke="#2a2a2a" stroke-width="1.05"/>
<line x1="168.1" y1="232.9" x2="248.2" y2="232.9" stroke="#555" stroke-width="0.6" stroke-dasharray="0.7 1.1"/>
<line x1="168.1" y1="193.83" x2="168.1" y2="252.64" stroke="#222" stroke-width="0.9"/>
<line x1="167.7" y1="252.24" x2="247.2" y2="252.24" stroke="#222" stroke-width="0.9"/>
<line x1="165.3" y1="194.23" x2="168.1" y2="194.23" stroke="#222" stroke-width="0.8"/>
<text x="163.1" y="196.03" font-size="6" fill="#222" text-anchor="end" font-weight="normal" stroke="#222" stroke-width="0.2">100</text>
<line x1="165.3" y1="213.56" x2="168.1" y2="213.56" stroke="#222" stroke-width="0.8"/>
<text x="163.1" y="215.37" font-size="6" fill="#222" text-anchor="end" font-weight="normal" stroke="#222" stroke-width="0.2">50</text>
<line x1="165.3" y1="232.9" x2="168.1" y2="232.9" stroke="#222" stroke-width="0.8"/>
<text x="163.1" y="234.7" font-size="6" fill="#222" text-anchor="end" font-weight="normal" stroke="#222" stroke-width="0.2">0</text>
<line x1="165.3" y1="252.24" x2="168.1" y2="252.24" stroke="#222" stroke-width="0.8"/>
<text x="163.1" y="254.04" font-size="6" fill="#222" text-anchor="end" font-weight="normal" stroke="#222" stroke-width="0.2">−50</text>
<line x1="193.5" y1="252.24" x2="193.5" y2="255.04" stroke="#222" stroke-width="0.8"/>
<line x1="232.4" y1="252.24" x2="232.4" y2="255.04" stroke="#222" stroke-width="0.8"/>
<text x="191.8" y="263.5" font-size="6.1" fill="#222" text-anchor="middle" font-weight="normal" stroke="#222" stroke-width="0.2">CLUSTER 4A</text>
<text x="235" y="263.5" font-size="6.1" fill="#222" text-anchor="middle" font-weight="normal" stroke="#222" stroke-width="0.2">CLUSTER 4B</text>
<text x="144.5" y="222.4" font-size="6.6" fill="#1a1a1a" text-anchor="middle" font-weight="normal" transform="rotate(-90 144.5 222.4)" textLength="54" lengthAdjust="spacingAndGlyphs" stroke="#1a1a1a" stroke-width="0.2">% CLL specific killing</text>
<text x="209.6" y="175.1" font-size="6.6" fill="#222" text-anchor="middle" font-weight="normal" stroke="#222" stroke-width="0.2">DAY7</text>
<line x1="193.2" y1="188.4" x2="232.2" y2="188.4" stroke="#5a5a5a" stroke-width="1.25"/>
<text x="213.5" y="186.2" font-size="6.6" fill="#222" text-anchor="middle" font-weight="normal" stroke="#222" stroke-width="0.2">ns</text>
<path d="M181.5 193.31L183.19 195L181.5 196.69L179.81 195Z" fill="#1d3049"/>
<rect x="184.95" y="193.25" width="2.5" height="2.5" fill="#1d3049"/>
<circle cx="189" cy="194.5" r="1.25" fill="#1d3049"/>
<circle cx="191.8" cy="195" r="1.25" fill="#1d3049"/>
<circle cx="195.7" cy="195" r="1.25" fill="#1d3049"/>
<circle cx="199.9" cy="195" r="1.25" fill="#1d3049"/>
<path d="M205.3 193.31L206.99 195L205.3 196.69L203.61 195Z" fill="#1d3049"/>
<circle cx="186.2" cy="197.6" r="1.25" fill="#1d3049"/>
<path d="M191 197.45L192.62 200.45L189.38 200.45Z" fill="#1d3049"/>
<circle cx="199.9" cy="198.6" r="1.25" fill="#1d3049"/>
<circle cx="191.3" cy="218.8" r="1.25" fill="#1d3049"/>
<circle cx="196" cy="217.5" r="1.25" fill="#1d3049"/>
<path d="M186.2 222.35L187.82 225.35L184.57 225.35Z" fill="#1d3049"/>
<circle cx="195.2" cy="223.5" r="1.25" fill="#1d3049"/>
<circle cx="199.9" cy="224.1" r="1.25" fill="#1d3049"/>
<circle cx="191.3" cy="225.3" r="1.25" fill="#1d3049"/>
<circle cx="185.9" cy="229.7" r="1.25" fill="#1d3049"/>
<circle cx="191.3" cy="232" r="1.25" fill="#1d3049"/>
<path d="M195.7 231.35L197.32 234.35L194.07 234.35Z" fill="#1d3049"/>
<circle cx="200.3" cy="232" r="1.25" fill="#1d3049"/>
<path d="M193.7 245.05L195.32 248.05L192.07 248.05Z" fill="#1d3049"/>
<line x1="193.7" y1="195.8" x2="193.7" y2="228.1" stroke="#2a2a2a" stroke-width="0.9"/>
<line x1="186.95" y1="195.8" x2="200.45" y2="195.8" stroke="#2a2a2a" stroke-width="0.95"/>
<line x1="186.95" y1="228.1" x2="200.45" y2="228.1" stroke="#2a2a2a" stroke-width="0.95"/>
<line x1="181.2" y1="218" x2="206.2" y2="218" stroke="#2a2a2a" stroke-width="1.05"/>
<rect x="225.45" y="193.75" width="2.5" height="2.5" fill="#7b1b2d"/>
<path d="M229.8 193.25L231.43 196.25L228.18 196.25Z" fill="#7b1b2d"/>
<circle cx="232.4" cy="195" r="1.25" fill="#7b1b2d"/>
<rect x="235.55" y="193.75" width="2.5" height="2.5" fill="#7b1b2d"/>
<circle cx="232.4" cy="197.3" r="1.25" fill="#7b1b2d"/>
<circle cx="232.4" cy="199.7" r="1.25" fill="#7b1b2d"/>
<path d="M232.4 201.91L234.09 203.6L232.4 205.29L230.71 203.6Z" fill="#7b1b2d"/>
<circle cx="226.7" cy="209.8" r="1.25" fill="#7b1b2d"/>
<circle cx="232.4" cy="211" r="1.25" fill="#7b1b2d"/>
<path d="M226.7 213.45L228.32 216.45L225.07 216.45Z" fill="#7b1b2d"/>
<circle cx="232.4" cy="215.2" r="1.25" fill="#7b1b2d"/>
<path d="M236.8 213.51L238.49 215.2L236.8 216.89L235.11 215.2Z" fill="#7b1b2d"/>
<path d="M229.8 217.35L231.43 220.35L228.18 220.35Z" fill="#7b1b2d"/>
<path d="M236.3 216.61L237.99 218.3L236.3 219.99L234.61 218.3Z" fill="#7b1b2d"/>
<rect x="231.15" y="220.95" width="2.5" height="2.5" fill="#7b1b2d"/>
<circle cx="232.4" cy="229.2" r="1.25" fill="#7b1b2d"/>
<line x1="232.4" y1="196" x2="232.4" y2="218.3" stroke="#2a2a2a" stroke-width="0.9"/>
<line x1="225.9" y1="196" x2="238.9" y2="196" stroke="#2a2a2a" stroke-width="0.95"/>
<line x1="225.9" y1="218.3" x2="238.9" y2="218.3" stroke="#2a2a2a" stroke-width="0.95"/>
<line x1="219.9" y1="211" x2="244.9" y2="211" stroke="#2a2a2a" stroke-width="1.05"/>
<line x1="306.9" y1="232.9" x2="386.5" y2="232.9" stroke="#555" stroke-width="0.6" stroke-dasharray="0.7 1.1"/>
<line x1="306.9" y1="193.83" x2="306.9" y2="252.64" stroke="#222" stroke-width="0.9"/>
<line x1="306.5" y1="252.24" x2="385.5" y2="252.24" stroke="#222" stroke-width="0.9"/>
<line x1="304.1" y1="194.23" x2="306.9" y2="194.23" stroke="#222" stroke-width="0.8"/>
<text x="301.9" y="196.03" font-size="6" fill="#222" text-anchor="end" font-weight="normal" stroke="#222" stroke-width="0.2">100</text>
<line x1="304.1" y1="213.56" x2="306.9" y2="213.56" stroke="#222" stroke-width="0.8"/>
<text x="301.9" y="215.37" font-size="6" fill="#222" text-anchor="end" font-weight="normal" stroke="#222" stroke-width="0.2">50</text>
<line x1="304.1" y1="232.9" x2="306.9" y2="232.9" stroke="#222" stroke-width="0.8"/>
<text x="301.9" y="234.7" font-size="6" fill="#222" text-anchor="end" font-weight="normal" stroke="#222" stroke-width="0.2">0</text>
<line x1="304.1" y1="252.24" x2="306.9" y2="252.24" stroke="#222" stroke-width="0.8"/>
<text x="301.9" y="254.04" font-size="6" fill="#222" text-anchor="end" font-weight="normal" stroke="#222" stroke-width="0.2">−50</text>
<line x1="332.3" y1="252.24" x2="332.3" y2="255.04" stroke="#222" stroke-width="0.8"/>
<line x1="370.6" y1="252.24" x2="370.6" y2="255.04" stroke="#222" stroke-width="0.8"/>
<text x="329" y="263.5" font-size="6.1" fill="#222" text-anchor="middle" font-weight="normal" stroke="#222" stroke-width="0.2">CLUSTER 8A</text>
<text x="372.7" y="263.5" font-size="6.1" fill="#222" text-anchor="middle" font-weight="normal" stroke="#222" stroke-width="0.2">CLUSTER 8B</text>
<text x="284" y="222.4" font-size="6.6" fill="#1a1a1a" text-anchor="middle" font-weight="normal" transform="rotate(-90 284 222.4)" textLength="54" lengthAdjust="spacingAndGlyphs" stroke="#1a1a1a" stroke-width="0.2">% CLL specific killing</text>
<text x="350.7" y="175.1" font-size="6.6" fill="#222" text-anchor="middle" font-weight="normal" stroke="#222" stroke-width="0.2">DAY3</text>
<line x1="332.8" y1="191.3" x2="371.1" y2="191.3" stroke="#5a5a5a" stroke-width="1.25"/>
<text x="351.5" y="190.9" font-size="6.5" fill="#222" text-anchor="middle" font-weight="normal" stroke="#222" stroke-width="0.2">**</text>
<path d="M332.1 205.71L333.79 207.4L332.1 209.09L330.41 207.4Z" fill="#1d3049"/>
<rect x="330.55" y="215.75" width="2.5" height="2.5" fill="#1d3049"/>
<circle cx="331.8" cy="221.1" r="1.25" fill="#1d3049"/>
<circle cx="331.8" cy="224.4" r="1.25" fill="#1d3049"/>
<path d="M320 228.35L321.62 231.35L318.38 231.35Z" fill="#1d3049"/>
<circle cx="324" cy="230.1" r="1.25" fill="#1d3049"/>
<rect x="325.75" y="228.85" width="2.5" height="2.5" fill="#1d3049"/>
<rect x="328.75" y="228.85" width="2.5" height="2.5" fill="#1d3049"/>
<rect x="331.75" y="228.85" width="2.5" height="2.5" fill="#1d3049"/>
<circle cx="336" cy="230.1" r="1.25" fill="#1d3049"/>
<circle cx="339" cy="230.1" r="1.25" fill="#1d3049"/>
<path d="M342 227.81L343.69 229.5L342 231.19L340.31 229.5Z" fill="#1d3049"/>
<circle cx="326.7" cy="232.2" r="1.25" fill="#1d3049"/>
<circle cx="333" cy="232.2" r="1.25" fill="#1d3049"/>
<path d="M326.7 233.45L328.32 236.45L325.07 236.45Z" fill="#1d3049"/>
<circle cx="333" cy="235.2" r="1.25" fill="#1d3049"/>
<circle cx="329" cy="237.9" r="1.25" fill="#1d3049"/>
<path d="M322.5 238.15L324.12 241.15L320.88 241.15Z" fill="#1d3049"/>
<circle cx="330" cy="239.9" r="1.25" fill="#1d3049"/>
<circle cx="336.5" cy="239.9" r="1.25" fill="#1d3049"/>
<line x1="332.1" y1="227" x2="332.1" y2="235.5" stroke="#2a2a2a" stroke-width="0.9"/>
<line x1="328.6" y1="227" x2="335.6" y2="227" stroke="#2a2a2a" stroke-width="0.95"/>
<line x1="328.6" y1="235.5" x2="335.6" y2="235.5" stroke="#2a2a2a" stroke-width="0.95"/>
<line x1="319.6" y1="230.1" x2="344.6" y2="230.1" stroke="#2a2a2a" stroke-width="1.05"/>
<rect x="366.65" y="196.35" width="2.5" height="2.5" fill="#7b1b2d"/>
<rect x="366.65" y="198.45" width="2.5" height="2.5" fill="#7b1b2d"/>
<circle cx="373.3" cy="199.2" r="1.25" fill="#7b1b2d"/>
<circle cx="370.5" cy="208.5" r="1.25" fill="#7b1b2d"/>
<path d="M370.5 215.81L372.19 217.5L370.5 219.19L368.81 217.5Z" fill="#7b1b2d"/>
<circle cx="370.5" cy="219.9" r="1.25" fill="#7b1b2d"/>
<circle cx="373.3" cy="221.4" r="1.25" fill="#7b1b2d"/>
<circle cx="373.3" cy="224.1" r="1.25" fill="#7b1b2d"/>
<circle cx="363.5" cy="225.6" r="1.25" fill="#7b1b2d"/>
<circle cx="367" cy="225.6" r="1.25" fill="#7b1b2d"/>
<circle cx="379" cy="225.6" r="1.25" fill="#7b1b2d"/>
<circle cx="368" cy="228.7" r="1.25" fill="#7b1b2d"/>
<circle cx="373" cy="228.7" r="1.25" fill="#7b1b2d"/>
<circle cx="370.5" cy="231.5" r="1.25" fill="#7b1b2d"/>
<circle cx="370.5" cy="235.9" r="1.25" fill="#7b1b2d"/>
<circle cx="370.5" cy="237.8" r="1.25" fill="#7b1b2d"/>
<line x1="370.5" y1="211.6" x2="370.5" y2="230" stroke="#2a2a2a" stroke-width="0.9"/>
<line x1="363.8" y1="211.6" x2="377.2" y2="211.6" stroke="#2a2a2a" stroke-width="0.95"/>
<line x1="363.8" y1="230" x2="377.2" y2="230" stroke="#2a2a2a" stroke-width="0.95"/>
<line x1="358.3" y1="225.6" x2="382.7" y2="225.6" stroke="#2a2a2a" stroke-width="1.05"/>
<line x1="429.2" y1="232.9" x2="508.6" y2="232.9" stroke="#555" stroke-width="0.6" stroke-dasharray="0.7 1.1"/>
<line x1="429.2" y1="193.83" x2="429.2" y2="252.64" stroke="#222" stroke-width="0.9"/>
<line x1="428.8" y1="252.24" x2="507.6" y2="252.24" stroke="#222" stroke-width="0.9"/>
<line x1="426.4" y1="194.23" x2="429.2" y2="194.23" stroke="#222" stroke-width="0.8"/>
<text x="424.2" y="196.03" font-size="6" fill="#222" text-anchor="end" font-weight="normal" stroke="#222" stroke-width="0.2">100</text>
<line x1="426.4" y1="213.56" x2="429.2" y2="213.56" stroke="#222" stroke-width="0.8"/>
<text x="424.2" y="215.37" font-size="6" fill="#222" text-anchor="end" font-weight="normal" stroke="#222" stroke-width="0.2">50</text>
<line x1="426.4" y1="232.9" x2="429.2" y2="232.9" stroke="#222" stroke-width="0.8"/>
<text x="424.2" y="234.7" font-size="6" fill="#222" text-anchor="end" font-weight="normal" stroke="#222" stroke-width="0.2">0</text>
<line x1="426.4" y1="252.24" x2="429.2" y2="252.24" stroke="#222" stroke-width="0.8"/>
<text x="424.2" y="254.04" font-size="6" fill="#222" text-anchor="end" font-weight="normal" stroke="#222" stroke-width="0.2">−50</text>
<line x1="454.4" y1="252.24" x2="454.4" y2="255.04" stroke="#222" stroke-width="0.8"/>
<line x1="493" y1="252.24" x2="493" y2="255.04" stroke="#222" stroke-width="0.8"/>
<text x="453.3" y="263.5" font-size="6.1" fill="#222" text-anchor="middle" font-weight="normal" stroke="#222" stroke-width="0.2">CLUSTER 8A</text>
<text x="495.3" y="263.5" font-size="6.1" fill="#222" text-anchor="middle" font-weight="normal" stroke="#222" stroke-width="0.2">CLUSTER 8B</text>
<text x="406.5" y="222.4" font-size="6.6" fill="#1a1a1a" text-anchor="middle" font-weight="normal" transform="rotate(-90 406.5 222.4)" textLength="54" lengthAdjust="spacingAndGlyphs" stroke="#1a1a1a" stroke-width="0.2">% CLL specific killing</text>
<text x="468.6" y="175.1" font-size="6.6" fill="#222" text-anchor="middle" font-weight="normal" stroke="#222" stroke-width="0.2">DAY7</text>
<line x1="454.9" y1="188.3" x2="493.2" y2="188.3" stroke="#5a5a5a" stroke-width="1.25"/>
<text x="473.9" y="187.8" font-size="6.5" fill="#222" text-anchor="middle" font-weight="normal" stroke="#222" stroke-width="0.2">*</text>
<circle cx="446.7" cy="194.5" r="1.25" fill="#1d3049"/>
<circle cx="451.3" cy="194.5" r="1.25" fill="#1d3049"/>
<circle cx="456.5" cy="194.5" r="1.25" fill="#1d3049"/>
<circle cx="461.4" cy="194.5" r="1.25" fill="#1d3049"/>
<circle cx="452" cy="197.6" r="1.25" fill="#1d3049"/>
<circle cx="458" cy="197.6" r="1.25" fill="#1d3049"/>
<circle cx="454.5" cy="215.7" r="1.25" fill="#1d3049"/>
<circle cx="454.5" cy="218.3" r="1.25" fill="#1d3049"/>
<circle cx="447" cy="225.5" r="1.25" fill="#1d3049"/>
<circle cx="452" cy="222" r="1.25" fill="#1d3049"/>
<circle cx="454.5" cy="223" r="1.25" fill="#1d3049"/>
<circle cx="459" cy="224" r="1.25" fill="#1d3049"/>
<circle cx="463.3" cy="225.6" r="1.25" fill="#1d3049"/>
<circle cx="452" cy="228" r="1.25" fill="#1d3049"/>
<circle cx="446.7" cy="229.7" r="1.25" fill="#1d3049"/>
<circle cx="452" cy="229.7" r="1.25" fill="#1d3049"/>
<circle cx="458" cy="229.7" r="1.25" fill="#1d3049"/>
<circle cx="452" cy="232.3" r="1.25" fill="#1d3049"/>
<path d="M456.5 231.35L458.12 234.35L454.88 234.35Z" fill="#1d3049"/>
<circle cx="461.4" cy="232.3" r="1.25" fill="#1d3049"/>
<path d="M454.5 245.05L456.12 248.05L452.88 248.05Z" fill="#1d3049"/>
<line x1="454.5" y1="197.6" x2="454.5" y2="228.7" stroke="#2a2a2a" stroke-width="0.9"/>
<line x1="448.9" y1="197.6" x2="460.1" y2="197.6" stroke="#2a2a2a" stroke-width="0.95"/>
<line x1="448.9" y1="228.7" x2="460.1" y2="228.7" stroke="#2a2a2a" stroke-width="0.95"/>
<line x1="442" y1="223" x2="467" y2="223" stroke="#2a2a2a" stroke-width="1.05"/>
<circle cx="483.1" cy="195" r="1.25" fill="#7b1b2d"/>
<circle cx="488.2" cy="195" r="1.25" fill="#7b1b2d"/>
<circle cx="490.6" cy="195" r="1.25" fill="#7b1b2d"/>
<circle cx="493.4" cy="195" r="1.25" fill="#7b1b2d"/>
<rect x="496.35" y="192.75" width="2.5" height="2.5" fill="#7b1b2d"/>
<rect x="496.35" y="195.75" width="2.5" height="2.5" fill="#7b1b2d"/>
<rect x="500.95" y="192.75" width="2.5" height="2.5" fill="#7b1b2d"/>
<rect x="500.95" y="195.75" width="2.5" height="2.5" fill="#7b1b2d"/>
<circle cx="493.4" cy="197" r="1.25" fill="#7b1b2d"/>
<circle cx="493.4" cy="199.2" r="1.25" fill="#7b1b2d"/>
<circle cx="493.4" cy="202.8" r="1.25" fill="#7b1b2d"/>
<circle cx="488.2" cy="209" r="1.25" fill="#7b1b2d"/>
<circle cx="493.4" cy="211" r="1.25" fill="#7b1b2d"/>
<circle cx="488.2" cy="214.1" r="1.25" fill="#7b1b2d"/>
<circle cx="493.4" cy="216.8" r="1.25" fill="#7b1b2d"/>
<circle cx="497.6" cy="218.3" r="1.25" fill="#7b1b2d"/>
<path d="M488.2 217.75L489.82 220.75L486.57 220.75Z" fill="#7b1b2d"/>
<circle cx="493.4" cy="219" r="1.25" fill="#7b1b2d"/>
<line x1="493.4" y1="196" x2="493.4" y2="214.1" stroke="#2a2a2a" stroke-width="0.9"/>
<line x1="487.15" y1="196" x2="499.65" y2="196" stroke="#2a2a2a" stroke-width="0.95"/>
<line x1="487.15" y1="214.1" x2="499.65" y2="214.1" stroke="#2a2a2a" stroke-width="0.95"/>
<line x1="480.9" y1="200.8" x2="505.9" y2="200.8" stroke="#2a2a2a" stroke-width="1.05"/>
<path d="M104.5 269.6L106.4 273.1L102.6 273.1Z" fill="none" stroke="#333" stroke-width="0.6"/>
<text x="109.1" y="273.5" font-size="5.7" fill="#333" text-anchor="start" font-weight="normal" stroke="#333" stroke-width="0.2">TN</text>
<circle cx="124.7" cy="271.4" r="1.7" fill="none" stroke="#333" stroke-width="0.6"/>
<text x="129.3" y="273.5" font-size="5.7" fill="#333" text-anchor="start" font-weight="normal" stroke="#333" stroke-width="0.2">IBR</text>
<path d="M147.3 269.4L149.4 271.4L147.3 273.4L145.2 271.4Z" fill="none" stroke="#333" stroke-width="0.6"/>
<text x="151.8" y="273.5" font-size="5.7" fill="#333" text-anchor="start" font-weight="normal" stroke="#333" stroke-width="0.2">ACA</text>
<rect x="171.2" y="269.7" width="3.3" height="3.3" fill="none" stroke="#333" stroke-width="0.6"/>
<text x="177.4" y="273.5" font-size="5.7" fill="#333" text-anchor="start" font-weight="normal" stroke="#333" stroke-width="0.2">RES</text>
<path d="M364.9 269.1L366.8 272.6L363 272.6Z" fill="none" stroke="#333" stroke-width="0.6"/>
<text x="369.5" y="273" font-size="5.7" fill="#333" text-anchor="start" font-weight="normal" stroke="#333" stroke-width="0.2">TN</text>
<circle cx="385.1" cy="270.9" r="1.7" fill="none" stroke="#333" stroke-width="0.6"/>
<text x="389.7" y="273" font-size="5.7" fill="#333" text-anchor="start" font-weight="normal" stroke="#333" stroke-width="0.2">IBR</text>
<path d="M408.1 268.9L410.2 270.9L408.1 272.9L406 270.9Z" fill="none" stroke="#333" stroke-width="0.6"/>
<text x="412.6" y="273" font-size="5.7" fill="#333" text-anchor="start" font-weight="normal" stroke="#333" stroke-width="0.2">ACA</text>
<rect x="431.1" y="269.2" width="3.3" height="3.3" fill="none" stroke="#333" stroke-width="0.6"/>
<text x="437.3" y="273" font-size="5.7" fill="#333" text-anchor="start" font-weight="normal" stroke="#333" stroke-width="0.2">RES</text>
<text x="91" y="298.5" font-size="10.6" fill="#000" text-anchor="start" font-weight="bold" stroke="#000" stroke-width="0.35">D</text>
<text x="194.8" y="311.8" font-size="8" fill="#333" text-anchor="middle" font-weight="normal" stroke="#333" stroke-width="0.2">CD4</text>
<text x="362.1" y="311.8" font-size="8" fill="#333" text-anchor="middle" font-weight="normal" stroke="#333" stroke-width="0.2">CD8</text>
<line x1="136.2" y1="319" x2="136.2" y2="403" stroke="#222" stroke-width="1"/>
<line x1="135.7" y1="402.5" x2="261.2" y2="402.5" stroke="#222" stroke-width="1"/>
<line x1="133.6" y1="402.5" x2="136.2" y2="402.5" stroke="#222" stroke-width="0.9"/>
<text x="129.2" y="404.8" font-size="5.7" fill="#333" text-anchor="end">1×10<tspan font-size="3.8" dy="-2.4">2</tspan></text>
<line x1="134.8" y1="397.5" x2="136.2" y2="397.5" stroke="#333" stroke-width="0.5"/>
<line x1="134.8" y1="394.58" x2="136.2" y2="394.58" stroke="#333" stroke-width="0.5"/>
<line x1="134.8" y1="392.51" x2="136.2" y2="392.51" stroke="#333" stroke-width="0.5"/>
<line x1="134.8" y1="390.9" x2="136.2" y2="390.9" stroke="#333" stroke-width="0.5"/>
<line x1="134.8" y1="389.58" x2="136.2" y2="389.58" stroke="#333" stroke-width="0.5"/>
<line x1="134.8" y1="388.47" x2="136.2" y2="388.47" stroke="#333" stroke-width="0.5"/>
<line x1="134.8" y1="387.51" x2="136.2" y2="387.51" stroke="#333" stroke-width="0.5"/>
<line x1="134.8" y1="386.66" x2="136.2" y2="386.66" stroke="#333" stroke-width="0.5"/>
<line x1="133.6" y1="385.9" x2="136.2" y2="385.9" stroke="#222" stroke-width="0.9"/>
<text x="129.2" y="388.2" font-size="5.7" fill="#333" text-anchor="end">1×10<tspan font-size="3.8" dy="-2.4">3</tspan></text>
<line x1="134.8" y1="380.9" x2="136.2" y2="380.9" stroke="#333" stroke-width="0.5"/>
<line x1="134.8" y1="377.98" x2="136.2" y2="377.98" stroke="#333" stroke-width="0.5"/>
<line x1="134.8" y1="375.91" x2="136.2" y2="375.91" stroke="#333" stroke-width="0.5"/>
<line x1="134.8" y1="374.3" x2="136.2" y2="374.3" stroke="#333" stroke-width="0.5"/>
<line x1="134.8" y1="372.98" x2="136.2" y2="372.98" stroke="#333" stroke-width="0.5"/>
<line x1="134.8" y1="371.87" x2="136.2" y2="371.87" stroke="#333" stroke-width="0.5"/>
<line x1="134.8" y1="370.91" x2="136.2" y2="370.91" stroke="#333" stroke-width="0.5"/>
<line x1="134.8" y1="370.06" x2="136.2" y2="370.06" stroke="#333" stroke-width="0.5"/>
<line x1="133.6" y1="369.3" x2="136.2" y2="369.3" stroke="#222" stroke-width="0.9"/>
<text x="129.2" y="371.6" font-size="5.7" fill="#333" text-anchor="end">1×10<tspan font-size="3.8" dy="-2.4">4</tspan></text>
<line x1="134.8" y1="364.3" x2="136.2" y2="364.3" stroke="#333" stroke-width="0.5"/>
<line x1="134.8" y1="361.38" x2="136.2" y2="361.38" stroke="#333" stroke-width="0.5"/>
<line x1="134.8" y1="359.31" x2="136.2" y2="359.31" stroke="#333" stroke-width="0.5"/>
<line x1="134.8" y1="357.7" x2="136.2" y2="357.7" stroke="#333" stroke-width="0.5"/>
<line x1="134.8" y1="356.38" x2="136.2" y2="356.38" stroke="#333" stroke-width="0.5"/>
<line x1="134.8" y1="355.27" x2="136.2" y2="355.27" stroke="#333" stroke-width="0.5"/>
<line x1="134.8" y1="354.31" x2="136.2" y2="354.31" stroke="#333" stroke-width="0.5"/>
<line x1="134.8" y1="353.46" x2="136.2" y2="353.46" stroke="#333" stroke-width="0.5"/>
<line x1="133.6" y1="352.7" x2="136.2" y2="352.7" stroke="#222" stroke-width="0.9"/>
<text x="129.2" y="355" font-size="5.7" fill="#333" text-anchor="end">1×10<tspan font-size="3.8" dy="-2.4">5</tspan></text>
<line x1="134.8" y1="347.7" x2="136.2" y2="347.7" stroke="#333" stroke-width="0.5"/>
<line x1="134.8" y1="344.78" x2="136.2" y2="344.78" stroke="#333" stroke-width="0.5"/>
<line x1="134.8" y1="342.71" x2="136.2" y2="342.71" stroke="#333" stroke-width="0.5"/>
<line x1="134.8" y1="341.1" x2="136.2" y2="341.1" stroke="#333" stroke-width="0.5"/>
<line x1="134.8" y1="339.78" x2="136.2" y2="339.78" stroke="#333" stroke-width="0.5"/>
<line x1="134.8" y1="338.67" x2="136.2" y2="338.67" stroke="#333" stroke-width="0.5"/>
<line x1="134.8" y1="337.71" x2="136.2" y2="337.71" stroke="#333" stroke-width="0.5"/>
<line x1="134.8" y1="336.86" x2="136.2" y2="336.86" stroke="#333" stroke-width="0.5"/>
<line x1="133.6" y1="336.1" x2="136.2" y2="336.1" stroke="#222" stroke-width="0.9"/>
<text x="129.2" y="338.4" font-size="5.7" fill="#333" text-anchor="end">1×10<tspan font-size="3.8" dy="-2.4">6</tspan></text>
<line x1="134.8" y1="331.1" x2="136.2" y2="331.1" stroke="#333" stroke-width="0.5"/>
<line x1="134.8" y1="328.18" x2="136.2" y2="328.18" stroke="#333" stroke-width="0.5"/>
<line x1="134.8" y1="326.11" x2="136.2" y2="326.11" stroke="#333" stroke-width="0.5"/>
<line x1="134.8" y1="324.5" x2="136.2" y2="324.5" stroke="#333" stroke-width="0.5"/>
<line x1="134.8" y1="323.18" x2="136.2" y2="323.18" stroke="#333" stroke-width="0.5"/>
<line x1="134.8" y1="322.07" x2="136.2" y2="322.07" stroke="#333" stroke-width="0.5"/>
<line x1="134.8" y1="321.11" x2="136.2" y2="321.11" stroke="#333" stroke-width="0.5"/>
<line x1="134.8" y1="320.26" x2="136.2" y2="320.26" stroke="#333" stroke-width="0.5"/>
<line x1="133.6" y1="319.5" x2="136.2" y2="319.5" stroke="#222" stroke-width="0.9"/>
<text x="129.2" y="321.8" font-size="5.7" fill="#333" text-anchor="end">1×10<tspan font-size="3.8" dy="-2.4">7</tspan></text>
<text x="107.5" y="359.1" font-size="6.3" fill="#1a1a1a" text-anchor="middle" font-weight="normal" transform="rotate(-90 107.5 359.1)" textLength="34" lengthAdjust="spacingAndGlyphs" stroke="#1a1a1a" stroke-width="0.2">Cell count/mL</text>
<line x1="146" y1="402.5" x2="146" y2="405.3" stroke="#222" stroke-width="0.8"/>
<line x1="161.1" y1="402.5" x2="161.1" y2="405.3" stroke="#222" stroke-width="0.8"/>
<line x1="143.4" y1="405.3" x2="163.7" y2="405.3" stroke="#222" stroke-width="1"/>
<text x="153.55" y="413.5" font-size="6.3" fill="#222" text-anchor="middle" font-weight="normal" stroke="#222" stroke-width="0.2">TN</text>
<line x1="176" y1="402.5" x2="176" y2="405.3" stroke="#222" stroke-width="0.8"/>
<line x1="191.1" y1="402.5" x2="191.1" y2="405.3" stroke="#222" stroke-width="0.8"/>
<line x1="173.4" y1="405.3" x2="193.7" y2="405.3" stroke="#222" stroke-width="1"/>
<text x="183.55" y="413.5" font-size="6.3" fill="#222" text-anchor="middle" font-weight="normal" stroke="#222" stroke-width="0.2">IBR</text>
<line x1="206" y1="402.5" x2="206" y2="405.3" stroke="#222" stroke-width="0.8"/>
<line x1="220.8" y1="402.5" x2="220.8" y2="405.3" stroke="#222" stroke-width="0.8"/>
<line x1="203.4" y1="405.3" x2="223.4" y2="405.3" stroke="#222" stroke-width="1"/>
<text x="213.4" y="413.5" font-size="6.3" fill="#222" text-anchor="middle" font-weight="normal" stroke="#222" stroke-width="0.2">ACA</text>
<line x1="235.8" y1="402.5" x2="235.8" y2="405.3" stroke="#222" stroke-width="0.8"/>
<line x1="250.9" y1="402.5" x2="250.9" y2="405.3" stroke="#222" stroke-width="0.8"/>
<line x1="233.2" y1="405.3" x2="253.5" y2="405.3" stroke="#222" stroke-width="1"/>
<text x="243.35" y="413.5" font-size="6.3" fill="#222" text-anchor="middle" font-weight="normal" stroke="#222" stroke-width="0.2">RES</text>
<line x1="146.1" y1="366.2" x2="146.1" y2="386.3" stroke="#cf2a3e" stroke-width="0.8"/>
<line x1="144.5" y1="366.2" x2="147.7" y2="366.2" stroke="#cf2a3e" stroke-width="0.8"/>
<line x1="144.5" y1="386.3" x2="147.7" y2="386.3" stroke="#cf2a3e" stroke-width="0.8"/>
<rect x="141.2" y="366.2" width="9.8" height="5.2" fill="#f19688" stroke="#cf2a3e" stroke-width="0.45" stroke-opacity="0.6"/>
<line x1="141.2" y1="368.5" x2="151" y2="368.5" stroke="#cf2a3e" stroke-width="0.6" stroke-opacity="0.7"/>
<path d="M143.1 364.68L144.79 367.8L141.41 367.8Z" fill="#cc1629"/>
<path d="M146.1 364.68L147.79 367.8L144.41 367.8Z" fill="#cc1629"/>
<path d="M149.1 364.68L150.79 367.8L147.41 367.8Z" fill="#cc1629"/>
<path d="M143.1 367.68L144.79 370.8L141.41 370.8Z" fill="#cc1629"/>
<path d="M149.1 367.68L150.79 370.8L147.41 370.8Z" fill="#cc1629"/>
<path d="M146.1 369.18L147.79 372.3L144.41 372.3Z" fill="#cc1629"/>
<path d="M146.1 372.18L147.79 375.3L144.41 375.3Z" fill="#cc1629"/>
<path d="M146.1 384.18L147.79 387.3L144.41 387.3Z" fill="#cc1629"/>
<line x1="161.3" y1="338.3" x2="161.3" y2="377.3" stroke="#2b5189" stroke-width="0.8"/>
<line x1="159.7" y1="338.3" x2="162.9" y2="338.3" stroke="#2b5189" stroke-width="0.8"/>
<line x1="159.7" y1="377.3" x2="162.9" y2="377.3" stroke="#2b5189" stroke-width="0.8"/>
<rect x="156.7" y="338.6" width="9.2" height="14.8" fill="#95a3d0" stroke="#2b5189" stroke-width="0.45" stroke-opacity="0.6"/>
<line x1="156.7" y1="350.6" x2="165.9" y2="350.6" stroke="#2b5189" stroke-width="0.6" stroke-opacity="0.7"/>
<path d="M158.8 337.18L160.49 340.3L157.11 340.3Z" fill="#1c3763"/>
<path d="M163.8 337.18L165.49 340.3L162.11 340.3Z" fill="#1c3763"/>
<path d="M161.3 338.18L162.99 341.3L159.61 341.3Z" fill="#1c3763"/>
<path d="M161.3 343.18L162.99 346.3L159.61 346.3Z" fill="#1c3763"/>
<path d="M158.3 349.18L159.99 352.3L156.61 352.3Z" fill="#1c3763"/>
<path d="M164.3 350.18L165.99 353.3L162.61 353.3Z" fill="#1c3763"/>
<path d="M161.3 352.18L162.99 355.3L159.61 355.3Z" fill="#1c3763"/>
<path d="M161.3 375.18L162.99 378.3L159.61 378.3Z" fill="#1c3763"/>
<line x1="176" y1="351.2" x2="176" y2="376.8" stroke="#cf2a3e" stroke-width="0.8"/>
<line x1="174.4" y1="351.2" x2="177.6" y2="351.2" stroke="#cf2a3e" stroke-width="0.8"/>
<line x1="174.4" y1="376.8" x2="177.6" y2="376.8" stroke="#cf2a3e" stroke-width="0.8"/>
<rect x="171.1" y="359.3" width="9.8" height="15.4" fill="#f19688" stroke="#cf2a3e" stroke-width="0.45" stroke-opacity="0.6"/>
<line x1="171.1" y1="366" x2="180.9" y2="366" stroke="#cf2a3e" stroke-width="0.6" stroke-opacity="0.7"/>
<circle cx="176" cy="351.5" r="1.3" fill="#cc1629"/>
<circle cx="173" cy="359" r="1.3" fill="#cc1629"/>
<circle cx="179" cy="361" r="1.3" fill="#cc1629"/>
<circle cx="174.5" cy="362" r="1.3" fill="#cc1629"/>
<circle cx="177.5" cy="364" r="1.3" fill="#cc1629"/>
<circle cx="176" cy="367" r="1.3" fill="#cc1629"/>
<circle cx="173" cy="371" r="1.3" fill="#cc1629"/>
<circle cx="179" cy="374.5" r="1.3" fill="#cc1629"/>
<circle cx="174.5" cy="376.5" r="1.3" fill="#cc1629"/>
<circle cx="177.5" cy="374" r="1.3" fill="#cc1629"/>
<line x1="191.1" y1="336.9" x2="191.1" y2="376.3" stroke="#2b5189" stroke-width="0.8"/>
<line x1="189.5" y1="336.9" x2="192.7" y2="336.9" stroke="#2b5189" stroke-width="0.8"/>
<line x1="189.5" y1="376.3" x2="192.7" y2="376.3" stroke="#2b5189" stroke-width="0.8"/>
<rect x="186.1" y="340.2" width="10" height="21.5" fill="#95a3d0" stroke="#2b5189" stroke-width="0.45" stroke-opacity="0.6"/>
<line x1="186.1" y1="350" x2="196.1" y2="350" stroke="#2b5189" stroke-width="0.6" stroke-opacity="0.7"/>
<circle cx="191.1" cy="337" r="1.3" fill="#1c3763"/>
<circle cx="188.1" cy="339" r="1.3" fill="#1c3763"/>
<circle cx="194.1" cy="341" r="1.3" fill="#1c3763"/>
<circle cx="189.6" cy="348" r="1.3" fill="#1c3763"/>
<circle cx="192.6" cy="349" r="1.3" fill="#1c3763"/>
<circle cx="191.1" cy="352" r="1.3" fill="#1c3763"/>
<circle cx="188.1" cy="357" r="1.3" fill="#1c3763"/>
<circle cx="194.1" cy="361.5" r="1.3" fill="#1c3763"/>
<circle cx="189.6" cy="376" r="1.3" fill="#1c3763"/>
<circle cx="192.6" cy="376" r="1.3" fill="#1c3763"/>
<line x1="205.9" y1="343.8" x2="205.9" y2="379.3" stroke="#cf2a3e" stroke-width="0.8"/>
<line x1="204.3" y1="343.8" x2="207.5" y2="343.8" stroke="#cf2a3e" stroke-width="0.8"/>
<line x1="204.3" y1="379.3" x2="207.5" y2="379.3" stroke="#cf2a3e" stroke-width="0.8"/>
<rect x="200.9" y="356.8" width="10" height="12.5" fill="#f19688" stroke="#cf2a3e" stroke-width="0.45" stroke-opacity="0.6"/>
<line x1="200.9" y1="362" x2="210.9" y2="362" stroke="#cf2a3e" stroke-width="0.6" stroke-opacity="0.7"/>
<path d="M205.9 342.25L207.66 344L205.9 345.75L204.15 344Z" fill="#cc1629"/>
<path d="M205.9 348.25L207.66 350L205.9 351.75L204.15 350Z" fill="#cc1629"/>
<path d="M203.4 355.25L205.16 357L203.4 358.75L201.65 357Z" fill="#cc1629"/>
<path d="M208.4 355.25L210.16 357L208.4 358.75L206.65 357Z" fill="#cc1629"/>
<path d="M205.9 357.25L207.66 359L205.9 360.75L204.15 359Z" fill="#cc1629"/>
<path d="M202.9 360.25L204.66 362L202.9 363.75L201.15 362Z" fill="#cc1629"/>
<path d="M208.9 360.25L210.66 362L208.9 363.75L207.15 362Z" fill="#cc1629"/>
<path d="M205.9 362.25L207.66 364L205.9 365.75L204.15 364Z" fill="#cc1629"/>
<path d="M203.9 364.25L205.66 366L203.9 367.75L202.15 366Z" fill="#cc1629"/>
<path d="M207.9 366.25L209.66 368L207.9 369.75L206.15 368Z" fill="#cc1629"/>
<path d="M205.9 369.25L207.66 371L205.9 372.75L204.15 371Z" fill="#cc1629"/>
<path d="M205.9 373.25L207.66 375L205.9 376.75L204.15 375Z" fill="#cc1629"/>
<path d="M205.9 377.25L207.66 379L205.9 380.75L204.15 379Z" fill="#cc1629"/>
<line x1="220.9" y1="335.9" x2="220.9" y2="361.3" stroke="#2b5189" stroke-width="0.8"/>
<line x1="219.3" y1="335.9" x2="222.5" y2="335.9" stroke="#2b5189" stroke-width="0.8"/>
<line x1="219.3" y1="361.3" x2="222.5" y2="361.3" stroke="#2b5189" stroke-width="0.8"/>
<rect x="215.9" y="341.1" width="10" height="8.3" fill="#95a3d0" stroke="#2b5189" stroke-width="0.45" stroke-opacity="0.6"/>
<line x1="215.9" y1="345" x2="225.9" y2="345" stroke="#2b5189" stroke-width="0.6" stroke-opacity="0.7"/>
<path d="M220.9 334.25L222.66 336L220.9 337.75L219.15 336Z" fill="#1c3763"/>
<path d="M218.4 338.25L220.16 340L218.4 341.75L216.65 340Z" fill="#1c3763"/>
<path d="M223.4 339.25L225.16 341L223.4 342.75L221.65 341Z" fill="#1c3763"/>
<path d="M220.9 341.25L222.66 343L220.9 344.75L219.15 343Z" fill="#1c3763"/>
<path d="M217.9 344.25L219.66 346L217.9 347.75L216.15 346Z" fill="#1c3763"/>
<path d="M223.9 344.25L225.66 346L223.9 347.75L222.15 346Z" fill="#1c3763"/>
<path d="M220.9 346.25L222.66 348L220.9 349.75L219.15 348Z" fill="#1c3763"/>
<path d="M218.9 348.25L220.66 350L218.9 351.75L217.15 350Z" fill="#1c3763"/>
<path d="M220.9 352.25L222.66 354L220.9 355.75L219.15 354Z" fill="#1c3763"/>
<path d="M220.9 359.25L222.66 361L220.9 362.75L219.15 361Z" fill="#1c3763"/>
<line x1="235.9" y1="345.9" x2="235.9" y2="374.5" stroke="#cf2a3e" stroke-width="0.8"/>
<line x1="234.3" y1="345.9" x2="237.5" y2="345.9" stroke="#cf2a3e" stroke-width="0.8"/>
<line x1="234.3" y1="374.5" x2="237.5" y2="374.5" stroke="#cf2a3e" stroke-width="0.8"/>
<rect x="230.9" y="347.4" width="10" height="9.4" fill="#f19688" stroke="#cf2a3e" stroke-width="0.45" stroke-opacity="0.6"/>
<line x1="230.9" y1="351" x2="240.9" y2="351" stroke="#cf2a3e" stroke-width="0.6" stroke-opacity="0.7"/>
<rect x="234.6" y="344.7" width="2.6" height="2.6" fill="#cc1629"/>
<rect x="231.6" y="346.7" width="2.6" height="2.6" fill="#cc1629"/>
<rect x="237.1" y="347.7" width="2.6" height="2.6" fill="#cc1629"/>
<rect x="234.6" y="349.7" width="2.6" height="2.6" fill="#cc1629"/>
<rect x="232.1" y="351.7" width="2.6" height="2.6" fill="#cc1629"/>
<rect x="237.6" y="353.7" width="2.6" height="2.6" fill="#cc1629"/>
<rect x="234.6" y="355.7" width="2.6" height="2.6" fill="#cc1629"/>
<rect x="234.6" y="373.2" width="2.6" height="2.6" fill="#cc1629"/>
<line x1="250.8" y1="335.9" x2="250.8" y2="354.7" stroke="#2b5189" stroke-width="0.8"/>
<line x1="249.2" y1="335.9" x2="252.4" y2="335.9" stroke="#2b5189" stroke-width="0.8"/>
<line x1="249.2" y1="354.7" x2="252.4" y2="354.7" stroke="#2b5189" stroke-width="0.8"/>
<rect x="246.1" y="339" width="9.4" height="4.8" fill="#95a3d0" stroke="#2b5189" stroke-width="0.45" stroke-opacity="0.6"/>
<line x1="246.1" y1="341" x2="255.5" y2="341" stroke="#2b5189" stroke-width="0.6" stroke-opacity="0.7"/>
<rect x="249.5" y="334.7" width="2.6" height="2.6" fill="#1c3763"/>
<rect x="246.5" y="337.7" width="2.6" height="2.6" fill="#1c3763"/>
<rect x="252.5" y="337.7" width="2.6" height="2.6" fill="#1c3763"/>
<rect x="249.5" y="339.7" width="2.6" height="2.6" fill="#1c3763"/>
<rect x="247" y="341.7" width="2.6" height="2.6" fill="#1c3763"/>
<rect x="252" y="342.2" width="2.6" height="2.6" fill="#1c3763"/>
<rect x="249.5" y="344.7" width="2.6" height="2.6" fill="#1c3763"/>
<rect x="249.5" y="353.4" width="2.6" height="2.6" fill="#1c3763"/>
<line x1="145.9" y1="330" x2="160.5" y2="330" stroke="#444" stroke-width="1"/>
<text x="153.2" y="329.3" font-size="7.2" fill="#111" text-anchor="middle" font-weight="normal" stroke="#111" stroke-width="0.1">*</text>
<line x1="176.1" y1="332.3" x2="191.4" y2="332.3" stroke="#444" stroke-width="1"/>
<text x="183.75" y="331.6" font-size="7.2" fill="#111" text-anchor="middle" font-weight="normal" stroke="#111" stroke-width="0.1">*</text>
<line x1="205.9" y1="331.7" x2="220.5" y2="331.7" stroke="#444" stroke-width="1"/>
<text x="213.2" y="331" font-size="7.2" fill="#111" text-anchor="middle" font-weight="normal" stroke="#111" stroke-width="0.1">***</text>
<line x1="236.1" y1="331.7" x2="251" y2="331.7" stroke="#444" stroke-width="1"/>
<text x="243.55" y="331" font-size="7.2" fill="#111" text-anchor="middle" font-weight="normal" stroke="#111" stroke-width="0.1">*</text>
<line x1="304.2" y1="318.7" x2="304.2" y2="402.7" stroke="#222" stroke-width="1"/>
<line x1="303.7" y1="402.2" x2="429.6" y2="402.2" stroke="#222" stroke-width="1"/>
<line x1="301.6" y1="402.2" x2="304.2" y2="402.2" stroke="#222" stroke-width="0.9"/>
<text x="297.2" y="404.5" font-size="5.7" fill="#333" text-anchor="end">1×10<tspan font-size="3.8" dy="-2.4">2</tspan></text>
<line x1="302.8" y1="397.2" x2="304.2" y2="397.2" stroke="#333" stroke-width="0.5"/>
<line x1="302.8" y1="394.28" x2="304.2" y2="394.28" stroke="#333" stroke-width="0.5"/>
<line x1="302.8" y1="392.21" x2="304.2" y2="392.21" stroke="#333" stroke-width="0.5"/>
<line x1="302.8" y1="390.6" x2="304.2" y2="390.6" stroke="#333" stroke-width="0.5"/>
<line x1="302.8" y1="389.28" x2="304.2" y2="389.28" stroke="#333" stroke-width="0.5"/>
<line x1="302.8" y1="388.17" x2="304.2" y2="388.17" stroke="#333" stroke-width="0.5"/>
<line x1="302.8" y1="387.21" x2="304.2" y2="387.21" stroke="#333" stroke-width="0.5"/>
<line x1="302.8" y1="386.36" x2="304.2" y2="386.36" stroke="#333" stroke-width="0.5"/>
<line x1="301.6" y1="385.6" x2="304.2" y2="385.6" stroke="#222" stroke-width="0.9"/>
<text x="297.2" y="387.9" font-size="5.7" fill="#333" text-anchor="end">1×10<tspan font-size="3.8" dy="-2.4">3</tspan></text>
<line x1="302.8" y1="380.6" x2="304.2" y2="380.6" stroke="#333" stroke-width="0.5"/>
<line x1="302.8" y1="377.68" x2="304.2" y2="377.68" stroke="#333" stroke-width="0.5"/>
<line x1="302.8" y1="375.61" x2="304.2" y2="375.61" stroke="#333" stroke-width="0.5"/>
<line x1="302.8" y1="374" x2="304.2" y2="374" stroke="#333" stroke-width="0.5"/>
<line x1="302.8" y1="372.68" x2="304.2" y2="372.68" stroke="#333" stroke-width="0.5"/>
<line x1="302.8" y1="371.57" x2="304.2" y2="371.57" stroke="#333" stroke-width="0.5"/>
<line x1="302.8" y1="370.61" x2="304.2" y2="370.61" stroke="#333" stroke-width="0.5"/>
<line x1="302.8" y1="369.76" x2="304.2" y2="369.76" stroke="#333" stroke-width="0.5"/>
<line x1="301.6" y1="369" x2="304.2" y2="369" stroke="#222" stroke-width="0.9"/>
<text x="297.2" y="371.3" font-size="5.7" fill="#333" text-anchor="end">1×10<tspan font-size="3.8" dy="-2.4">4</tspan></text>
<line x1="302.8" y1="364" x2="304.2" y2="364" stroke="#333" stroke-width="0.5"/>
<line x1="302.8" y1="361.08" x2="304.2" y2="361.08" stroke="#333" stroke-width="0.5"/>
<line x1="302.8" y1="359.01" x2="304.2" y2="359.01" stroke="#333" stroke-width="0.5"/>
<line x1="302.8" y1="357.4" x2="304.2" y2="357.4" stroke="#333" stroke-width="0.5"/>
<line x1="302.8" y1="356.08" x2="304.2" y2="356.08" stroke="#333" stroke-width="0.5"/>
<line x1="302.8" y1="354.97" x2="304.2" y2="354.97" stroke="#333" stroke-width="0.5"/>
<line x1="302.8" y1="354.01" x2="304.2" y2="354.01" stroke="#333" stroke-width="0.5"/>
<line x1="302.8" y1="353.16" x2="304.2" y2="353.16" stroke="#333" stroke-width="0.5"/>
<line x1="301.6" y1="352.4" x2="304.2" y2="352.4" stroke="#222" stroke-width="0.9"/>
<text x="297.2" y="354.7" font-size="5.7" fill="#333" text-anchor="end">1×10<tspan font-size="3.8" dy="-2.4">5</tspan></text>
<line x1="302.8" y1="347.4" x2="304.2" y2="347.4" stroke="#333" stroke-width="0.5"/>
<line x1="302.8" y1="344.48" x2="304.2" y2="344.48" stroke="#333" stroke-width="0.5"/>
<line x1="302.8" y1="342.41" x2="304.2" y2="342.41" stroke="#333" stroke-width="0.5"/>
<line x1="302.8" y1="340.8" x2="304.2" y2="340.8" stroke="#333" stroke-width="0.5"/>
<line x1="302.8" y1="339.48" x2="304.2" y2="339.48" stroke="#333" stroke-width="0.5"/>
<line x1="302.8" y1="338.37" x2="304.2" y2="338.37" stroke="#333" stroke-width="0.5"/>
<line x1="302.8" y1="337.41" x2="304.2" y2="337.41" stroke="#333" stroke-width="0.5"/>
<line x1="302.8" y1="336.56" x2="304.2" y2="336.56" stroke="#333" stroke-width="0.5"/>
<line x1="301.6" y1="335.8" x2="304.2" y2="335.8" stroke="#222" stroke-width="0.9"/>
<text x="297.2" y="338.1" font-size="5.7" fill="#333" text-anchor="end">1×10<tspan font-size="3.8" dy="-2.4">6</tspan></text>
<line x1="302.8" y1="330.8" x2="304.2" y2="330.8" stroke="#333" stroke-width="0.5"/>
<line x1="302.8" y1="327.88" x2="304.2" y2="327.88" stroke="#333" stroke-width="0.5"/>
<line x1="302.8" y1="325.81" x2="304.2" y2="325.81" stroke="#333" stroke-width="0.5"/>
<line x1="302.8" y1="324.2" x2="304.2" y2="324.2" stroke="#333" stroke-width="0.5"/>
<line x1="302.8" y1="322.88" x2="304.2" y2="322.88" stroke="#333" stroke-width="0.5"/>
<line x1="302.8" y1="321.77" x2="304.2" y2="321.77" stroke="#333" stroke-width="0.5"/>
<line x1="302.8" y1="320.81" x2="304.2" y2="320.81" stroke="#333" stroke-width="0.5"/>
<line x1="302.8" y1="319.96" x2="304.2" y2="319.96" stroke="#333" stroke-width="0.5"/>
<line x1="301.6" y1="319.2" x2="304.2" y2="319.2" stroke="#222" stroke-width="0.9"/>
<text x="297.2" y="321.5" font-size="5.7" fill="#333" text-anchor="end">1×10<tspan font-size="3.8" dy="-2.4">7</tspan></text>
<text x="275.8" y="359.1" font-size="6.3" fill="#1a1a1a" text-anchor="middle" font-weight="normal" transform="rotate(-90 275.8 359.1)" textLength="34" lengthAdjust="spacingAndGlyphs" stroke="#1a1a1a" stroke-width="0.2">Cell count/mL</text>
<line x1="314.8" y1="402.2" x2="314.8" y2="405" stroke="#222" stroke-width="0.8"/>
<line x1="330" y1="402.2" x2="330" y2="405" stroke="#222" stroke-width="0.8"/>
<line x1="312.2" y1="405" x2="332.6" y2="405" stroke="#222" stroke-width="1"/>
<text x="322.4" y="413.2" font-size="6.3" fill="#222" text-anchor="middle" font-weight="normal" stroke="#222" stroke-width="0.2">TN</text>
<line x1="344.8" y1="402.2" x2="344.8" y2="405" stroke="#222" stroke-width="0.8"/>
<line x1="359.8" y1="402.2" x2="359.8" y2="405" stroke="#222" stroke-width="0.8"/>
<line x1="342.2" y1="405" x2="362.4" y2="405" stroke="#222" stroke-width="1"/>
<text x="352.3" y="413.2" font-size="6.3" fill="#222" text-anchor="middle" font-weight="normal" stroke="#222" stroke-width="0.2">IBR</text>
<line x1="374.8" y1="402.2" x2="374.8" y2="405" stroke="#222" stroke-width="0.8"/>
<line x1="389.8" y1="402.2" x2="389.8" y2="405" stroke="#222" stroke-width="0.8"/>
<line x1="372.2" y1="405" x2="392.4" y2="405" stroke="#222" stroke-width="1"/>
<text x="382.3" y="413.2" font-size="6.3" fill="#222" text-anchor="middle" font-weight="normal" stroke="#222" stroke-width="0.2">ACA</text>
<line x1="404.8" y1="402.2" x2="404.8" y2="405" stroke="#222" stroke-width="0.8"/>
<line x1="419.6" y1="402.2" x2="419.6" y2="405" stroke="#222" stroke-width="0.8"/>
<line x1="402.2" y1="405" x2="422.2" y2="405" stroke="#222" stroke-width="1"/>
<text x="412.2" y="413.2" font-size="6.3" fill="#222" text-anchor="middle" font-weight="normal" stroke="#222" stroke-width="0.2">RES</text>
<line x1="314.9" y1="365.2" x2="314.9" y2="384.5" stroke="#cf2a3e" stroke-width="0.8"/>
<line x1="313.3" y1="365.2" x2="316.5" y2="365.2" stroke="#cf2a3e" stroke-width="0.8"/>
<line x1="313.3" y1="384.5" x2="316.5" y2="384.5" stroke="#cf2a3e" stroke-width="0.8"/>
<rect x="310" y="365.7" width="9.8" height="18.2" fill="#f19688" stroke="#cf2a3e" stroke-width="0.45" stroke-opacity="0.6"/>
<line x1="310" y1="374.5" x2="319.8" y2="374.5" stroke="#cf2a3e" stroke-width="0.6" stroke-opacity="0.7"/>
<path d="M312.4 364.18L314.09 367.3L310.71 367.3Z" fill="#cc1629"/>
<path d="M317.4 364.18L319.09 367.3L315.71 367.3Z" fill="#cc1629"/>
<path d="M314.9 366.18L316.59 369.3L313.21 369.3Z" fill="#cc1629"/>
<path d="M311.9 369.18L313.59 372.3L310.21 372.3Z" fill="#cc1629"/>
<path d="M317.9 371.18L319.59 374.3L316.21 374.3Z" fill="#cc1629"/>
<path d="M314.9 374.18L316.59 377.3L313.21 377.3Z" fill="#cc1629"/>
<path d="M312.9 378.18L314.59 381.3L311.21 381.3Z" fill="#cc1629"/>
<path d="M316.9 381.18L318.59 384.3L315.21 384.3Z" fill="#cc1629"/>
<path d="M311.9 382.18L313.59 385.3L310.21 385.3Z" fill="#cc1629"/>
<line x1="329.7" y1="338" x2="329.7" y2="382.4" stroke="#2b5189" stroke-width="0.8"/>
<line x1="328.1" y1="338" x2="331.3" y2="338" stroke="#2b5189" stroke-width="0.8"/>
<line x1="328.1" y1="382.4" x2="331.3" y2="382.4" stroke="#2b5189" stroke-width="0.8"/>
<rect x="325" y="346.7" width="9.4" height="20.5" fill="#95a3d0" stroke="#2b5189" stroke-width="0.45" stroke-opacity="0.6"/>
<line x1="325" y1="354.2" x2="334.4" y2="354.2" stroke="#2b5189" stroke-width="0.6" stroke-opacity="0.7"/>
<path d="M329.7 336.18L331.39 339.3L328.01 339.3Z" fill="#1c3763"/>
<path d="M329.7 346.18L331.39 349.3L328.01 349.3Z" fill="#1c3763"/>
<path d="M326.7 349.18L328.39 352.3L325.01 352.3Z" fill="#1c3763"/>
<path d="M329.7 352.18L331.39 355.3L328.01 355.3Z" fill="#1c3763"/>
<path d="M332.7 355.18L334.39 358.3L331.01 358.3Z" fill="#1c3763"/>
<path d="M329.7 358.18L331.39 361.3L328.01 361.3Z" fill="#1c3763"/>
<path d="M329.7 365.18L331.39 368.3L328.01 368.3Z" fill="#1c3763"/>
<path d="M329.7 380.58L331.39 383.7L328.01 383.7Z" fill="#1c3763"/>
<line x1="344.7" y1="351.5" x2="344.7" y2="387.7" stroke="#cf2a3e" stroke-width="0.8"/>
<line x1="343.1" y1="351.5" x2="346.3" y2="351.5" stroke="#cf2a3e" stroke-width="0.8"/>
<line x1="343.1" y1="387.7" x2="346.3" y2="387.7" stroke="#cf2a3e" stroke-width="0.8"/>
<rect x="339.7" y="358.8" width="10" height="23.4" fill="#f19688" stroke="#cf2a3e" stroke-width="0.45" stroke-opacity="0.6"/>
<line x1="339.7" y1="367.2" x2="349.7" y2="367.2" stroke="#cf2a3e" stroke-width="0.6" stroke-opacity="0.7"/>
<circle cx="344.7" cy="351.5" r="1.3" fill="#cc1629"/>
<circle cx="341.7" cy="359" r="1.3" fill="#cc1629"/>
<circle cx="347.7" cy="362" r="1.3" fill="#cc1629"/>
<circle cx="343.2" cy="366" r="1.3" fill="#cc1629"/>
<circle cx="346.2" cy="368" r="1.3" fill="#cc1629"/>
<circle cx="344.7" cy="371" r="1.3" fill="#cc1629"/>
<circle cx="341.7" cy="375" r="1.3" fill="#cc1629"/>
<circle cx="347.7" cy="380" r="1.3" fill="#cc1629"/>
<circle cx="343.2" cy="383" r="1.3" fill="#cc1629"/>
<circle cx="346.2" cy="387.5" r="1.3" fill="#cc1629"/>
<line x1="359.7" y1="335.5" x2="359.7" y2="387" stroke="#2b5189" stroke-width="0.8"/>
<line x1="358.1" y1="335.5" x2="361.3" y2="335.5" stroke="#2b5189" stroke-width="0.8"/>
<line x1="358.1" y1="387" x2="361.3" y2="387" stroke="#2b5189" stroke-width="0.8"/>
<rect x="354.7" y="339" width="10" height="26.5" fill="#95a3d0" stroke="#2b5189" stroke-width="0.45" stroke-opacity="0.6"/>
<line x1="354.7" y1="353" x2="364.7" y2="353" stroke="#2b5189" stroke-width="0.6" stroke-opacity="0.7"/>
<circle cx="359.7" cy="335.5" r="1.3" fill="#1c3763"/>
<circle cx="356.7" cy="338" r="1.3" fill="#1c3763"/>
<circle cx="362.7" cy="339" r="1.3" fill="#1c3763"/>
<circle cx="358.2" cy="347" r="1.3" fill="#1c3763"/>
<circle cx="361.2" cy="352" r="1.3" fill="#1c3763"/>
<circle cx="359.7" cy="354" r="1.3" fill="#1c3763"/>
<circle cx="356.7" cy="359" r="1.3" fill="#1c3763"/>
<circle cx="362.7" cy="365" r="1.3" fill="#1c3763"/>
<circle cx="358.2" cy="378" r="1.3" fill="#1c3763"/>
<circle cx="361.2" cy="387" r="1.3" fill="#1c3763"/>
<line x1="374.9" y1="350.9" x2="374.9" y2="377.6" stroke="#cf2a3e" stroke-width="0.8"/>
<line x1="373.3" y1="350.9" x2="376.5" y2="350.9" stroke="#cf2a3e" stroke-width="0.8"/>
<line x1="373.3" y1="377.6" x2="376.5" y2="377.6" stroke="#cf2a3e" stroke-width="0.8"/>
<rect x="370" y="355.7" width="9.8" height="15.7" fill="#f19688" stroke="#cf2a3e" stroke-width="0.45" stroke-opacity="0.6"/>
<line x1="370" y1="362" x2="379.8" y2="362" stroke="#cf2a3e" stroke-width="0.6" stroke-opacity="0.7"/>
<path d="M374.9 349.25L376.65 351L374.9 352.75L373.14 351Z" fill="#cc1629"/>
<path d="M371.9 351.25L373.65 353L371.9 354.75L370.14 353Z" fill="#cc1629"/>
<path d="M377.9 352.25L379.65 354L377.9 355.75L376.14 354Z" fill="#cc1629"/>
<path d="M374.9 354.25L376.65 356L374.9 357.75L373.14 356Z" fill="#cc1629"/>
<path d="M372.4 356.25L374.15 358L372.4 359.75L370.64 358Z" fill="#cc1629"/>
<path d="M377.4 358.25L379.15 360L377.4 361.75L375.64 360Z" fill="#cc1629"/>
<path d="M374.9 360.25L376.65 362L374.9 363.75L373.14 362Z" fill="#cc1629"/>
<path d="M371.9 364.25L373.65 366L371.9 367.75L370.14 366Z" fill="#cc1629"/>
<path d="M377.9 366.25L379.65 368L377.9 369.75L376.14 368Z" fill="#cc1629"/>
<path d="M374.9 369.25L376.65 371L374.9 372.75L373.14 371Z" fill="#cc1629"/>
<path d="M374.9 372.25L376.65 374L374.9 375.75L373.14 374Z" fill="#cc1629"/>
<path d="M374.9 375.75L376.65 377.5L374.9 379.25L373.14 377.5Z" fill="#cc1629"/>
<line x1="389.5" y1="336.9" x2="389.5" y2="363.4" stroke="#2b5189" stroke-width="0.8"/>
<line x1="387.9" y1="336.9" x2="391.1" y2="336.9" stroke="#2b5189" stroke-width="0.8"/>
<line x1="387.9" y1="363.4" x2="391.1" y2="363.4" stroke="#2b5189" stroke-width="0.8"/>
<rect x="384.6" y="341.7" width="9.8" height="13" fill="#95a3d0" stroke="#2b5189" stroke-width="0.45" stroke-opacity="0.6"/>
<line x1="384.6" y1="346" x2="394.4" y2="346" stroke="#2b5189" stroke-width="0.6" stroke-opacity="0.7"/>
<path d="M389.5 335.25L391.25 337L389.5 338.75L387.75 337Z" fill="#1c3763"/>
<path d="M386.5 338.25L388.25 340L386.5 341.75L384.75 340Z" fill="#1c3763"/>
<path d="M392.5 339.25L394.25 341L392.5 342.75L390.75 341Z" fill="#1c3763"/>
<path d="M389.5 341.25L391.25 343L389.5 344.75L387.75 343Z" fill="#1c3763"/>
<path d="M387 344.25L388.75 346L387 347.75L385.25 346Z" fill="#1c3763"/>
<path d="M392 345.25L393.75 347L392 348.75L390.25 347Z" fill="#1c3763"/>
<path d="M389.5 348.25L391.25 350L389.5 351.75L387.75 350Z" fill="#1c3763"/>
<path d="M386.5 351.25L388.25 353L386.5 354.75L384.75 353Z" fill="#1c3763"/>
<path d="M392.5 352.25L394.25 354L392.5 355.75L390.75 354Z" fill="#1c3763"/>
<path d="M389.5 356.25L391.25 358L389.5 359.75L387.75 358Z" fill="#1c3763"/>
<path d="M389.5 361.64L391.25 363.4L389.5 365.15L387.75 363.4Z" fill="#1c3763"/>
<line x1="404.9" y1="344.2" x2="404.9" y2="362.6" stroke="#cf2a3e" stroke-width="0.8"/>
<line x1="403.3" y1="344.2" x2="406.5" y2="344.2" stroke="#cf2a3e" stroke-width="0.8"/>
<line x1="403.3" y1="362.6" x2="406.5" y2="362.6" stroke="#cf2a3e" stroke-width="0.8"/>
<rect x="400.1" y="345.9" width="9.6" height="16.1" fill="#f19688" stroke="#cf2a3e" stroke-width="0.45" stroke-opacity="0.6"/>
<line x1="400.1" y1="352" x2="409.7" y2="352" stroke="#cf2a3e" stroke-width="0.6" stroke-opacity="0.7"/>
<rect x="403.6" y="343.2" width="2.6" height="2.6" fill="#cc1629"/>
<rect x="400.6" y="345.7" width="2.6" height="2.6" fill="#cc1629"/>
<rect x="406.6" y="347.7" width="2.6" height="2.6" fill="#cc1629"/>
<rect x="403.6" y="350.7" width="2.6" height="2.6" fill="#cc1629"/>
<rect x="401.1" y="353.7" width="2.6" height="2.6" fill="#cc1629"/>
<rect x="406.1" y="355.7" width="2.6" height="2.6" fill="#cc1629"/>
<rect x="400.6" y="359.7" width="2.6" height="2.6" fill="#cc1629"/>
<rect x="405.6" y="360.7" width="2.6" height="2.6" fill="#cc1629"/>
<line x1="419.5" y1="336.9" x2="419.5" y2="352.2" stroke="#2b5189" stroke-width="0.8"/>
<line x1="417.9" y1="336.9" x2="421.1" y2="336.9" stroke="#2b5189" stroke-width="0.8"/>
<line x1="417.9" y1="352.2" x2="421.1" y2="352.2" stroke="#2b5189" stroke-width="0.8"/>
<rect x="414.7" y="338.4" width="9.6" height="10.4" fill="#95a3d0" stroke="#2b5189" stroke-width="0.45" stroke-opacity="0.6"/>
<line x1="414.7" y1="343" x2="424.3" y2="343" stroke="#2b5189" stroke-width="0.6" stroke-opacity="0.7"/>
<rect x="418.2" y="335.7" width="2.6" height="2.6" fill="#1c3763"/>
<rect x="415.2" y="337.7" width="2.6" height="2.6" fill="#1c3763"/>
<rect x="421.2" y="337.7" width="2.6" height="2.6" fill="#1c3763"/>
<rect x="418.2" y="339.7" width="2.6" height="2.6" fill="#1c3763"/>
<rect x="415.7" y="341.7" width="2.6" height="2.6" fill="#1c3763"/>
<rect x="420.7" y="342.7" width="2.6" height="2.6" fill="#1c3763"/>
<rect x="418.2" y="345.7" width="2.6" height="2.6" fill="#1c3763"/>
<rect x="418.2" y="350.7" width="2.6" height="2.6" fill="#1c3763"/>
<line x1="314.6" y1="330" x2="329.9" y2="330" stroke="#444" stroke-width="1"/>
<text x="322.25" y="329.3" font-size="7.2" fill="#111" text-anchor="middle" font-weight="normal" stroke="#111" stroke-width="0.1">*</text>
<line x1="344.9" y1="332.7" x2="359.5" y2="332.7" stroke="#444" stroke-width="1"/>
<text x="352.2" y="332" font-size="7.2" fill="#111" text-anchor="middle" font-weight="normal" stroke="#111" stroke-width="0.1">**</text>
<line x1="374.6" y1="332.1" x2="389.2" y2="332.1" stroke="#444" stroke-width="1"/>
<text x="381.9" y="331.4" font-size="7.2" fill="#111" text-anchor="middle" font-weight="normal" stroke="#111" stroke-width="0.1">**</text>
<line x1="404.9" y1="332.7" x2="419.5" y2="332.7" stroke="#444" stroke-width="1"/>
<text x="412.2" y="332" font-size="7.2" fill="#111" text-anchor="middle" font-weight="normal" stroke="#111" stroke-width="0.1">*</text>
<path d="M211.9 419.1L213.8 422.5L210 422.5Z" fill="#111"/>
<text x="216.2" y="423.3" font-size="5.4" fill="#333" text-anchor="start" font-weight="normal" stroke="#333" stroke-width="0.2">TN</text>
<circle cx="234.1" cy="420.9" r="1.9" fill="#111"/>
<text x="238.4" y="423.3" font-size="5.4" fill="#333" text-anchor="start" font-weight="normal" stroke="#333" stroke-width="0.2">IBR</text>
<path d="M259.4 418.8L261.5 420.9L259.4 423L257.3 420.9Z" fill="#111"/>
<text x="263.8" y="423.3" font-size="5.4" fill="#333" text-anchor="start" font-weight="normal" stroke="#333" stroke-width="0.2">ACA</text>
<rect x="284.2" y="418.9" width="4.2" height="4.2" fill="#c41e3a"/>
<text x="291" y="423.3" font-size="5.4" fill="#c41e3a" text-anchor="start" font-weight="normal" stroke="#c41e3a" stroke-width="0.2">B12</text>
<rect x="308" y="418.9" width="4.2" height="4.2" fill="#1f4e85"/>
<text x="315.9" y="423.3" font-size="5.4" fill="#2a5a92" text-anchor="start" font-weight="normal" stroke="#2a5a92" stroke-width="0.2">EPCORITAMAB</text>
<rect x="0.5" y="0.5" width="519" height="430" fill="none" stroke="#4a4a4a" stroke-width="1"/>
</svg></body></html>
